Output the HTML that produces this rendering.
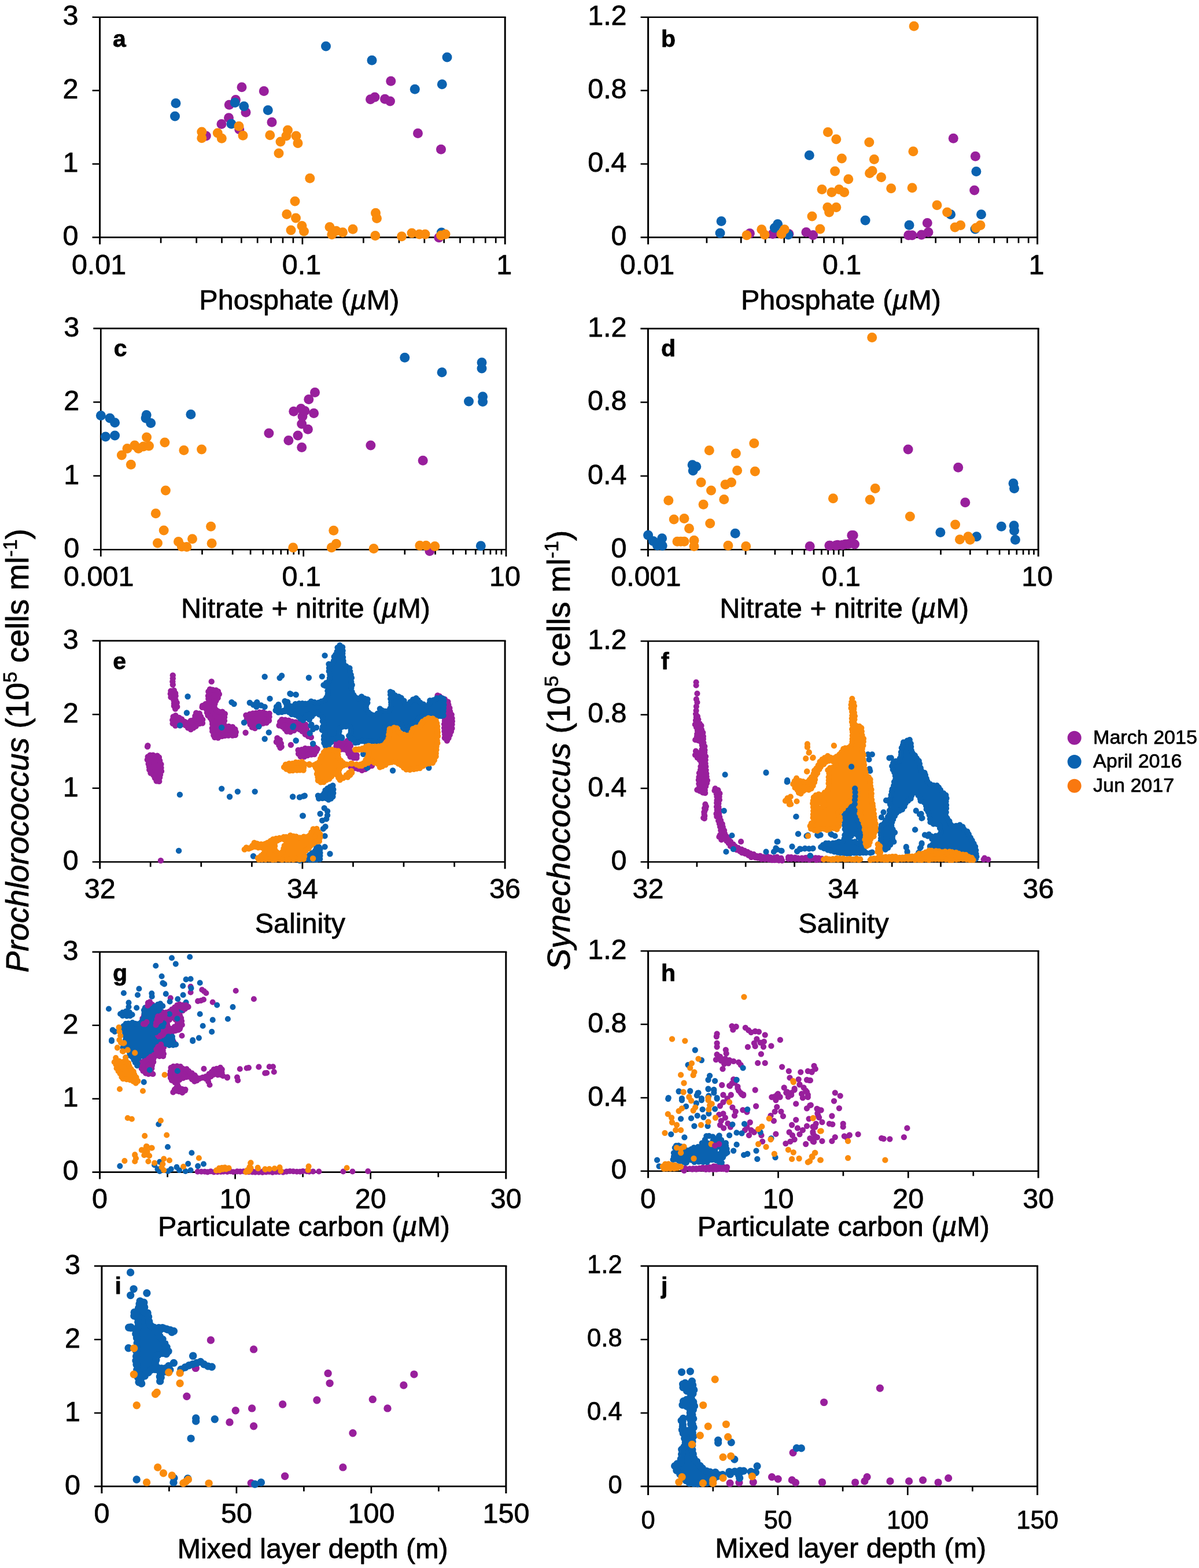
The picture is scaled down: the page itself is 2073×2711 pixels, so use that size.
<!DOCTYPE html>
<html lang="en"><head><meta charset="utf-8"><title>Prochlorococcus and Synechococcus abundance vs environmental variables</title>
<style>html,body{margin:0;padding:0;background:#fff}svg{display:block}</style></head>
<body>
<svg width="2073" height="2711" viewBox="0 0 2073 2711" role="img" aria-label="Ten scatter plots of Prochlorococcus and Synechococcus abundance against phosphate, nitrate + nitrite, salinity, particulate carbon and mixed layer depth" font-family='"Liberation Sans", sans-serif'>
<style>text{stroke:#000;stroke-width:.75px;stroke-linejoin:round}</style>
<rect width="2073" height="2711" fill="#fff"/>
<g id="panel-a">
<path d="M159.6 29.7H874.7M159.6 410.4H873.2" fill="none" stroke="#000" stroke-width="2.6"/>
<path d="M172.6 29.7V422.4M873.2 29.7V422.4" fill="none" stroke="#000" stroke-width="3.0"/>
<path d="M159.6 156.6H172.6M159.6 283.5H172.6" fill="none" stroke="#000" stroke-width="2.5"/>
<path d="M522.9 410.4V422.4M278.1 410.4V420.2M339.7 410.4V420.2M383.5 410.4V420.2M417.4 410.4V420.2M445.2 410.4V420.2M468.6 410.4V420.2M489 410.4V420.2M506.9 410.4V420.2M628.4 410.4V420.2M690 410.4V420.2M733.8 410.4V420.2M767.7 410.4V420.2M795.5 410.4V420.2M818.9 410.4V420.2M839.3 410.4V420.2M857.2 410.4V420.2" fill="none" stroke="#000" stroke-width="2.7"/>
<text x="135.6" y="43.4" font-size="48.5" text-anchor="end">3</text>
<text x="135.6" y="170.3" font-size="48.5" text-anchor="end">2</text>
<text x="135.6" y="297.2" font-size="48.5" text-anchor="end">1</text>
<text x="135.6" y="424.1" font-size="48.5" text-anchor="end">0</text>
<text x="171.1" y="473.8" font-size="48.5" text-anchor="middle">0.01</text>
<text x="521.4" y="473.8" font-size="48.5" text-anchor="middle">0.1</text>
<text x="871.7" y="473.8" font-size="48.5" text-anchor="middle">1</text>
<text x="517.4" y="534.5" font-size="48.5" text-anchor="middle">Phosphate (<tspan font-style="italic">µ</tspan>M)</text>
<text x="195.1" y="81.3" font-size="41" font-weight="bold">a</text>
<g fill="#981f9c"><circle cx="418" cy="150.8" r="8.5"/><circle cx="456.3" cy="157.5" r="8.5"/><circle cx="396.3" cy="181.3" r="8.5"/><circle cx="407.5" cy="172.5" r="8.5"/><circle cx="425" cy="194.3" r="8.5"/><circle cx="395.5" cy="203.8" r="8.5"/><circle cx="383" cy="214.5" r="8.5"/><circle cx="470" cy="211.3" r="8.5"/><circle cx="413.8" cy="223.8" r="8.5"/><circle cx="356.3" cy="235" r="8.5"/><circle cx="675.8" cy="140.3" r="8.5"/><circle cx="640.5" cy="171.8" r="8.5"/><circle cx="648" cy="168" r="8.5"/><circle cx="665.5" cy="171.3" r="8.5"/><circle cx="674.5" cy="175" r="8.5"/><circle cx="722.5" cy="230.5" r="8.5"/><circle cx="762.5" cy="258.3" r="8.5"/><circle cx="758.8" cy="410.8" r="8.5"/></g>
<g fill="#0a62b0"><circle cx="563.5" cy="80" r="8.5"/><circle cx="304" cy="178.5" r="8.5"/><circle cx="302.5" cy="201" r="8.5"/><circle cx="406.3" cy="177.5" r="8.5"/><circle cx="421.8" cy="183.8" r="8.5"/><circle cx="463.3" cy="190.5" r="8.5"/><circle cx="400" cy="214.3" r="8.5"/><circle cx="643" cy="104.3" r="8.5"/><circle cx="773" cy="99" r="8.5"/><circle cx="717.3" cy="154.3" r="8.5"/><circle cx="764.3" cy="145.8" r="8.5"/><circle cx="763.3" cy="402" r="8.5"/></g>
<g fill="#fa8b0c"><circle cx="348.8" cy="228" r="8.5"/><circle cx="348.8" cy="238.8" r="8.5"/><circle cx="376.3" cy="230" r="8.5"/><circle cx="383.3" cy="239.3" r="8.5"/><circle cx="413" cy="218.3" r="8.5"/><circle cx="420" cy="234.3" r="8.5"/><circle cx="466.8" cy="233.8" r="8.5"/><circle cx="497.5" cy="225" r="8.5"/><circle cx="495" cy="235" r="8.5"/><circle cx="485" cy="245" r="8.5"/><circle cx="512" cy="235" r="8.5"/><circle cx="515" cy="247.5" r="8.5"/><circle cx="482" cy="265" r="8.5"/><circle cx="535.8" cy="308.3" r="8.5"/><circle cx="510" cy="348" r="8.5"/><circle cx="495.8" cy="370.5" r="8.5"/><circle cx="511.5" cy="377" r="8.5"/><circle cx="522" cy="390.5" r="8.5"/><circle cx="525.5" cy="400" r="8.5"/><circle cx="503" cy="398" r="8.5"/><circle cx="570" cy="392.5" r="8.5"/><circle cx="573.8" cy="405.5" r="8.5"/><circle cx="581.3" cy="399.3" r="8.5"/><circle cx="592.5" cy="401.8" r="8.5"/><circle cx="610" cy="396.3" r="8.5"/><circle cx="649.5" cy="368.3" r="8.5"/><circle cx="651.5" cy="377.5" r="8.5"/><circle cx="648.8" cy="407.5" r="8.5"/><circle cx="694.5" cy="408.8" r="8.5"/><circle cx="712" cy="403" r="8.5"/><circle cx="725" cy="405" r="8.5"/><circle cx="735" cy="405" r="8.5"/><circle cx="762.5" cy="407" r="8.5"/><circle cx="770" cy="405" r="8.5"/></g>
</g>
<g id="panel-b">
<path d="M1107.6 29.7H1795.1M1107.6 410.4H1793.6" fill="none" stroke="#000" stroke-width="2.6"/>
<path d="M1120.6 29.7V422.4M1793.6 29.7V422.4" fill="none" stroke="#000" stroke-width="3.0"/>
<path d="M1107.6 156.6H1120.6M1107.6 283.5H1120.6" fill="none" stroke="#000" stroke-width="2.5"/>
<path d="M1457.1 410.4V422.4M1221.9 410.4V420.2M1281.2 410.4V420.2M1323.2 410.4V420.2M1355.8 410.4V420.2M1382.4 410.4V420.2M1405 410.4V420.2M1424.5 410.4V420.2M1441.7 410.4V420.2M1558.4 410.4V420.2M1617.7 410.4V420.2M1659.7 410.4V420.2M1692.3 410.4V420.2M1718.9 410.4V420.2M1741.5 410.4V420.2M1761 410.4V420.2M1778.2 410.4V420.2" fill="none" stroke="#000" stroke-width="2.7"/>
<text x="1083.6" y="43.4" font-size="48.5" text-anchor="end">1.2</text>
<text x="1083.6" y="170.3" font-size="48.5" text-anchor="end">0.8</text>
<text x="1083.6" y="297.2" font-size="48.5" text-anchor="end">0.4</text>
<text x="1083.6" y="424.1" font-size="48.5" text-anchor="end">0</text>
<text x="1119.1" y="474.2" font-size="48.5" text-anchor="middle">0.01</text>
<text x="1455.6" y="474.2" font-size="48.5" text-anchor="middle">0.1</text>
<text x="1792.1" y="474.2" font-size="48.5" text-anchor="middle">1</text>
<text x="1454" y="534.5" font-size="48.5" text-anchor="middle">Phosphate (<tspan font-style="italic">µ</tspan>M)</text>
<text x="1143.1" y="81.3" font-size="41" font-weight="bold">b</text>
<g fill="#981f9c"><circle cx="1296.4" cy="403.6" r="8.5"/><circle cx="1336" cy="404.6" r="8.5"/><circle cx="1363.9" cy="404.6" r="8.5"/><circle cx="1393.9" cy="401.4" r="8.5"/><circle cx="1405.7" cy="406.4" r="8.5"/><circle cx="1648.3" cy="239.2" r="8.5"/><circle cx="1686.4" cy="270.3" r="8.5"/><circle cx="1684.7" cy="329" r="8.5"/><circle cx="1603.3" cy="385.4" r="8.5"/><circle cx="1605" cy="401.4" r="8.5"/><circle cx="1570.7" cy="406.8" r="8.5"/><circle cx="1577" cy="406.8" r="8.5"/><circle cx="1593.2" cy="406.1" r="8.5"/></g>
<g fill="#0a62b0"><circle cx="1247.1" cy="382.6" r="8.5"/><circle cx="1245" cy="402.9" r="8.5"/><circle cx="1399.3" cy="268.6" r="8.5"/><circle cx="1339.3" cy="393.9" r="8.5"/><circle cx="1344.6" cy="387.5" r="8.5"/><circle cx="1362.9" cy="405.7" r="8.5"/><circle cx="1496.1" cy="381.1" r="8.5"/><circle cx="1572" cy="389.2" r="8.5"/><circle cx="1643.6" cy="370.8" r="8.5"/><circle cx="1687.9" cy="296.4" r="8.5"/><circle cx="1696.5" cy="370.8" r="8.5"/><circle cx="1686" cy="396" r="8.5"/></g>
<g fill="#fa8b0c"><circle cx="1291" cy="406.8" r="8.5"/><circle cx="1316.8" cy="396.7" r="8.5"/><circle cx="1322.1" cy="405.7" r="8.5"/><circle cx="1356.4" cy="396.7" r="8.5"/><circle cx="1351" cy="404.6" r="8.5"/><circle cx="1404" cy="374" r="8.5"/><circle cx="1417.9" cy="396" r="8.5"/><circle cx="1431.4" cy="228.5" r="8.5"/><circle cx="1445.8" cy="240.7" r="8.5"/><circle cx="1455.4" cy="273.9" r="8.5"/><circle cx="1443.6" cy="296" r="8.5"/><circle cx="1466.8" cy="309.7" r="8.5"/><circle cx="1421.1" cy="327.5" r="8.5"/><circle cx="1437.9" cy="332.4" r="8.5"/><circle cx="1450.7" cy="327.5" r="8.5"/><circle cx="1459.7" cy="332.4" r="8.5"/><circle cx="1430.8" cy="358.6" r="8.5"/><circle cx="1433.6" cy="367.1" r="8.5"/><circle cx="1445.8" cy="358.6" r="8.5"/><circle cx="1502.8" cy="246.1" r="8.5"/><circle cx="1511.4" cy="275.4" r="8.5"/><circle cx="1508.1" cy="295.4" r="8.5"/><circle cx="1503.6" cy="299.6" r="8.5"/><circle cx="1523.6" cy="306.5" r="8.5"/><circle cx="1540.7" cy="325.8" r="8.5"/><circle cx="1578.9" cy="261.7" r="8.5"/><circle cx="1577.1" cy="324.7" r="8.5"/><circle cx="1620" cy="354.7" r="8.5"/><circle cx="1637.6" cy="367.1" r="8.5"/><circle cx="1651.1" cy="392.9" r="8.5"/><circle cx="1660.7" cy="389.6" r="8.5"/><circle cx="1687.5" cy="393.9" r="8.5"/><circle cx="1695" cy="389.6" r="8.5"/><circle cx="1580.2" cy="45.2" r="8.5"/></g>
</g>
<g id="panel-c">
<path d="M161.3 567.9H876.4M161.3 950.2H875" fill="none" stroke="#000" stroke-width="2.6"/>
<path d="M174.3 567.9V962.2M875 567.9V962.2" fill="none" stroke="#000" stroke-width="2.7"/>
<path d="M161.3 695.3H174.3M161.3 822.8H174.3" fill="none" stroke="#000" stroke-width="2.5"/>
<path d="M524.7 950.2V962.2M349.5 950.2V958.8M402.2 950.2V958.8M433.1 950.2V958.8M454.9 950.2V958.8M471.9 950.2V958.8M485.8 950.2V958.8M497.5 950.2V958.8M507.7 950.2V958.8M516.6 950.2V958.8M699.8 950.2V958.8M752.6 950.2V958.8M783.4 950.2V958.8M805.3 950.2V958.8M822.3 950.2V958.8M836.1 950.2V958.8M847.9 950.2V958.8M858 950.2V958.8M867 950.2V958.8" fill="none" stroke="#000" stroke-width="2.7"/>
<text x="137.3" y="581.6" font-size="48.5" text-anchor="end">3</text>
<text x="137.3" y="709" font-size="48.5" text-anchor="end">2</text>
<text x="137.3" y="836.5" font-size="48.5" text-anchor="end">1</text>
<text x="137.3" y="963.9" font-size="48.5" text-anchor="end">0</text>
<text x="170.8" y="1012.7" font-size="48.5" text-anchor="middle">0.001</text>
<text x="521.2" y="1012.7" font-size="48.5" text-anchor="middle">0.1</text>
<text x="873" y="1012.7" font-size="48.5" text-anchor="middle">10</text>
<text x="528.5" y="1067.6" font-size="48.5" text-anchor="middle">Nitrate + nitrite (<tspan font-style="italic">µ</tspan>M)</text>
<text x="196.8" y="616" font-size="41" font-weight="bold">c</text>
<g fill="#981f9c"><circle cx="464.9" cy="748.9" r="8.5"/><circle cx="498.9" cy="761.5" r="8.5"/><circle cx="515" cy="753" r="8.5"/><circle cx="521.7" cy="773.6" r="8.5"/><circle cx="532.4" cy="742.2" r="8.5"/><circle cx="521.7" cy="732.9" r="8.5"/><circle cx="523" cy="720" r="8.5"/><circle cx="507.8" cy="711.2" r="8.5"/><circle cx="520.4" cy="706.6" r="8.5"/><circle cx="527" cy="710.6" r="8.5"/><circle cx="542.6" cy="714.6" r="8.5"/><circle cx="533.8" cy="690.5" r="8.5"/><circle cx="544.5" cy="678.5" r="8.5"/><circle cx="640.9" cy="770.1" r="8.5"/><circle cx="731.2" cy="796.3" r="8.5"/><circle cx="742.9" cy="952.7" r="8.5"/></g>
<g fill="#0a62b0"><circle cx="174.4" cy="718.6" r="8.5"/><circle cx="190" cy="722.9" r="8.5"/><circle cx="198.6" cy="730.8" r="8.5"/><circle cx="253.2" cy="717.5" r="8.5"/><circle cx="252.1" cy="722.9" r="8.5"/><circle cx="260.7" cy="731.4" r="8.5"/><circle cx="329.9" cy="716.4" r="8.5"/><circle cx="182.5" cy="755" r="8.5"/><circle cx="198.6" cy="752.9" r="8.5"/><circle cx="699.8" cy="618.2" r="8.5"/><circle cx="764.1" cy="643.7" r="8.5"/><circle cx="833" cy="626.8" r="8.5"/><circle cx="833" cy="637" r="8.5"/><circle cx="810.5" cy="694" r="8.5"/><circle cx="834.6" cy="685.7" r="8.5"/><circle cx="834.6" cy="694.6" r="8.5"/><circle cx="831.3" cy="943.8" r="8.5"/></g>
<g fill="#fa8b0c"><circle cx="210.4" cy="787.1" r="8.5"/><circle cx="220" cy="775.4" r="8.5"/><circle cx="232.9" cy="770" r="8.5"/><circle cx="239.3" cy="775.4" r="8.5"/><circle cx="247.9" cy="772.1" r="8.5"/><circle cx="253.6" cy="756.1" r="8.5"/><circle cx="257.5" cy="771.1" r="8.5"/><circle cx="284.9" cy="765.1" r="8.5"/><circle cx="317.9" cy="778.6" r="8.5"/><circle cx="348.6" cy="777.1" r="8.5"/><circle cx="226.4" cy="803.2" r="8.5"/><circle cx="286.4" cy="848.1" r="8.5"/><circle cx="269.3" cy="887.8" r="8.5"/><circle cx="283.2" cy="917.1" r="8.5"/><circle cx="364.6" cy="910.3" r="8.5"/><circle cx="272.5" cy="939" r="8.5"/><circle cx="308.5" cy="936.4" r="8.5"/><circle cx="332.5" cy="931.7" r="8.5"/><circle cx="314.3" cy="945" r="8.5"/><circle cx="322.9" cy="945.4" r="8.5"/><circle cx="366.1" cy="939.6" r="8.5"/><circle cx="506.7" cy="946.7" r="8.5"/><circle cx="576.8" cy="917.3" r="8.5"/><circle cx="581.3" cy="940.2" r="8.5"/><circle cx="573.2" cy="946.8" r="8.5"/><circle cx="646.1" cy="948.6" r="8.5"/><circle cx="725.9" cy="943.2" r="8.5"/><circle cx="736.6" cy="943.2" r="8.5"/><circle cx="751.8" cy="944.6" r="8.5"/></g>
</g>
<g id="panel-d">
<path d="M1107.4 568.1H1796.7M1107.4 950.3H1795.2" fill="none" stroke="#000" stroke-width="2.6"/>
<path d="M1120.4 568.1V962.3M1795.2 568.1V962.3" fill="none" stroke="#000" stroke-width="3.0"/>
<path d="M1107.4 695.5H1120.4M1107.4 822.9H1120.4" fill="none" stroke="#000" stroke-width="2.5"/>
<path d="M1457.8 950.3V962.3M1289.1 950.3V958.9M1339.9 950.3V958.9M1369.6 950.3V958.9M1390.7 950.3V958.9M1407 950.3V958.9M1420.4 950.3V958.9M1431.7 950.3V958.9M1441.5 950.3V958.9M1450.1 950.3V958.9M1626.5 950.3V958.9M1677.3 950.3V958.9M1707 950.3V958.9M1728.1 950.3V958.9M1744.4 950.3V958.9M1757.8 950.3V958.9M1769.1 950.3V958.9M1778.9 950.3V958.9M1787.5 950.3V958.9" fill="none" stroke="#000" stroke-width="2.7"/>
<text x="1083.4" y="581.8" font-size="48.5" text-anchor="end">1.2</text>
<text x="1083.4" y="709.2" font-size="48.5" text-anchor="end">0.8</text>
<text x="1083.4" y="836.6" font-size="48.5" text-anchor="end">0.4</text>
<text x="1083.4" y="964" font-size="48.5" text-anchor="end">0</text>
<text x="1116.9" y="1012.7" font-size="48.5" text-anchor="middle">0.001</text>
<text x="1454.3" y="1012.7" font-size="48.5" text-anchor="middle">0.1</text>
<text x="1793.2" y="1012.7" font-size="48.5" text-anchor="middle">10</text>
<text x="1459.7" y="1067.6" font-size="48.5" text-anchor="middle">Nitrate + nitrite (<tspan font-style="italic">µ</tspan>M)</text>
<text x="1142.9" y="616" font-size="41" font-weight="bold">d</text>
<g fill="#981f9c"><circle cx="1400.2" cy="944.4" r="8.5"/><circle cx="1434.8" cy="943.3" r="8.5"/><circle cx="1448.2" cy="942.2" r="8.5"/><circle cx="1461.6" cy="941.1" r="8.5"/><circle cx="1472.8" cy="925.4" r="8.5"/><circle cx="1570.1" cy="777" r="8.5"/><circle cx="1656.7" cy="808.3" r="8.5"/><circle cx="1668.8" cy="868.8" r="8.5"/><circle cx="1475.2" cy="925.4" r="8.5"/><circle cx="1433.9" cy="943.3" r="8.5"/><circle cx="1445.1" cy="942.9" r="8.5"/><circle cx="1456.3" cy="942.2" r="8.5"/><circle cx="1467.4" cy="940.6" r="8.5"/><circle cx="1477.5" cy="941.1" r="8.5"/></g>
<g fill="#0a62b0"><circle cx="1197.1" cy="803.8" r="8.5"/><circle cx="1203.8" cy="806.7" r="8.5"/><circle cx="1198.2" cy="813.8" r="8.5"/><circle cx="1271.2" cy="922.3" r="8.5"/><circle cx="1120.6" cy="925.3" r="8.5"/><circle cx="1129.3" cy="935.5" r="8.5"/><circle cx="1144.6" cy="930.7" r="8.5"/><circle cx="1136.3" cy="943" r="8.5"/><circle cx="1145.2" cy="943.6" r="8.5"/><circle cx="1625.9" cy="920.5" r="8.5"/><circle cx="1688.4" cy="927.7" r="8.5"/><circle cx="1731.3" cy="910.3" r="8.5"/><circle cx="1752" cy="835.7" r="8.5"/><circle cx="1753.6" cy="844.6" r="8.5"/><circle cx="1753.1" cy="908.7" r="8.5"/><circle cx="1753.6" cy="917.6" r="8.5"/><circle cx="1755.4" cy="933.3" r="8.5"/></g>
<g fill="#fa8b0c"><circle cx="1303.8" cy="766.5" r="8.5"/><circle cx="1226.3" cy="778.8" r="8.5"/><circle cx="1272.3" cy="783.9" r="8.5"/><circle cx="1274.6" cy="813.4" r="8.5"/><circle cx="1305.4" cy="815" r="8.5"/><circle cx="1212.1" cy="833.9" r="8.5"/><circle cx="1264.5" cy="833.9" r="8.5"/><circle cx="1254" cy="837.7" r="8.5"/><circle cx="1229.5" cy="848" r="8.5"/><circle cx="1251.8" cy="863.6" r="8.5"/><circle cx="1155.8" cy="865.2" r="8.5"/><circle cx="1216.1" cy="872.3" r="8.5"/><circle cx="1440.4" cy="861.8" r="8.5"/><circle cx="1165.2" cy="898" r="8.5"/><circle cx="1183" cy="896.4" r="8.5"/><circle cx="1227.7" cy="904.9" r="8.5"/><circle cx="1191.5" cy="913.8" r="8.5"/><circle cx="1171" cy="936.3" r="8.5"/><circle cx="1177" cy="936.3" r="8.5"/><circle cx="1183" cy="936.3" r="8.5"/><circle cx="1200" cy="934.3" r="8.5"/><circle cx="1200" cy="944.6" r="8.5"/><circle cx="1258.9" cy="943.2" r="8.5"/><circle cx="1289.7" cy="944.4" r="8.5"/><circle cx="1513.2" cy="844.6" r="8.5"/><circle cx="1504.2" cy="864.1" r="8.5"/><circle cx="1573.4" cy="893.1" r="8.5"/><circle cx="1651.6" cy="906.9" r="8.5"/><circle cx="1659.4" cy="932.8" r="8.5"/><circle cx="1673.9" cy="927.7" r="8.5"/><circle cx="1677.2" cy="933.3" r="8.5"/><circle cx="1507.7" cy="583.6" r="8.5"/></g>
</g>
<g id="panel-e">
<path d="M159.7 1107.9H874.6M159.7 1490.2H873.1" fill="none" stroke="#000" stroke-width="2.6"/>
<path d="M172.7 1107.9V1502.2M873.1 1107.9V1502.2" fill="none" stroke="#000" stroke-width="3.0"/>
<path d="M159.7 1235.3H172.7M159.7 1362.8H172.7" fill="none" stroke="#000" stroke-width="2.5"/>
<path d="M522.9 1490.2V1502.2M260.2 1490.2V1498.8M347.8 1490.2V1498.8M435.4 1490.2V1498.8M610.5 1490.2V1498.8M698 1490.2V1498.8M785.6 1490.2V1498.8" fill="none" stroke="#000" stroke-width="2.7"/>
<text x="135.7" y="1121.6" font-size="48.5" text-anchor="end">3</text>
<text x="135.7" y="1249" font-size="48.5" text-anchor="end">2</text>
<text x="135.7" y="1376.5" font-size="48.5" text-anchor="end">1</text>
<text x="135.7" y="1503.9" font-size="48.5" text-anchor="end">0</text>
<text x="172.7" y="1552.5" font-size="48.5" text-anchor="middle">32</text>
<text x="522.9" y="1552.5" font-size="48.5" text-anchor="middle">34</text>
<text x="873.1" y="1552.5" font-size="48.5" text-anchor="middle">36</text>
<text x="518.9" y="1613" font-size="48.5" text-anchor="middle">Salinity</text>
<text x="195.2" y="1157.1" font-size="41" font-weight="bold">e</text>
<clipPath id="clip-e"><rect x="152.7" y="1087.9" width="740.4" height="422.3"/></clipPath>
<g clip-path="url(#clip-e)">
<path d="M757.5,1202.6 758.5,1208.6 768.4,1221.9 769.4,1224 769.5,1260.5 771,1278.8 771.8,1279.2 775.7,1274.3 780.5,1259.9 780.5,1239.9 774,1213.8ZM604.4,1284.1 600.2,1282.5 594.7,1285.2 592.1,1285.5 584.3,1281.3 582,1283 582,1294.8 598.1,1295.2 600.7,1297.4 604.1,1305.9 611.6,1309.6 617.2,1308.8 616.7,1306 608,1301.6 606.1,1299.5 602.9,1292.3 603.3,1289.9 605.1,1287.6ZM516.4,1298.6 519.1,1306.6 523.5,1307.7 526.4,1307.5 528.1,1306.4 534.3,1304.6 543,1303.2 546,1297 548.4,1295.2 548.4,1293.2 537,1294.4 534.4,1295.2 524.3,1295.2ZM498.2,1264.5 504.3,1263.2 511.8,1260.7 514.5,1258.6 517.6,1258.4 521.4,1260.5 526.8,1267.6 536.2,1273.7 529.3,1263.1 526.2,1252.4 516.9,1249.8 506.1,1248.6 496.9,1245.2 487.8,1245.2 482.6,1251.4 483.9,1254 493.9,1259.1ZM483.9,1290.2 486.8,1292.6 484.1,1281.4 481.4,1277.3 479.5,1277.9 479.1,1281.5 483.3,1287.5ZM438,1258 440.7,1258 449.6,1251.2 459.6,1249.4 464.4,1244.6 465.7,1237.2 464.1,1234.1 453.1,1232.7 436.3,1234.4 427.2,1237 426.6,1239.4 429.2,1244.6 434.3,1253.2ZM349.5,1222.2 355.6,1224.7 357.1,1225.9 358.1,1227.6 359.8,1234.3 367.8,1245.1 368.2,1247.1 368.2,1260.9 370.5,1272.8 373.9,1275.3 389.7,1270.6 405.6,1270.5 407.9,1269.4 405.8,1261.2 400,1257.7 389.2,1257.5 387.3,1256.5 386.1,1254.8 385.5,1252.3 387.3,1239.6 387.3,1232.7 381.6,1232.3 372.2,1228.5 369.8,1225.9 369.5,1223.4 371.4,1213.5 377,1205.6 378.1,1201.1 375,1193.5 373.1,1194.8 370.6,1195.2 368.6,1194.6 364.7,1192 362.7,1192.5 360.3,1201 362,1211.1 361.6,1213.5 359.7,1215.8ZM302.2,1253.8 316.5,1250.9 318.4,1251.6 330,1260.3 342,1251.4 349,1249.8 349.6,1247.4 346.7,1238.6 343.5,1233.3 340.8,1233.8 336.6,1243.8 335,1245.8 323.8,1250.5 320.2,1249.8 304.2,1238.6 299.5,1240.2 299.5,1249.3ZM296.6,1195.2 295.4,1202.7 300.8,1209.4 302.6,1224.1 304.6,1224.1 303.4,1211.9 303.4,1199.9 301.5,1195.2ZM256.1,1307.6 255.8,1311.1 261,1335 263.4,1336.4 268,1342.1 272.7,1351.2 274.3,1348.7 277.4,1335.9 277.5,1324.3 275.1,1311.8 272,1307.7 259.1,1306.9Z" fill="#981f9c" fill-rule="evenodd" stroke="#981f9c" stroke-width="1.5" stroke-linejoin="round"/>
<path d="M298.8 1167.7h0M298.8 1173h0M298.4 1178.4h0M298.8 1183.8h0M365.7 1178.4h0M424.6 1266.8h0M502.9 1287.9h0M255.5 1289.1h0M606.6 1325.9h0M613 1328.1h0M619.2 1329.4h0M625.8 1331.9h0M631.6 1329.7h0M636.5 1326.5h0M643 1323.7h0M255 1290.9h0M277.9 1487.9h0M772.9 1280.5h0M775.5 1276h0M777.7 1270.6h0M779.9 1264.8h0M781.4 1259.2h0M781.5 1252.4h0M781.8 1247.1h0M781.5 1242h0M780.7 1235.6h0M778.1 1230.1h0M777.3 1224.3h0M775.3 1218.4h0M774.4 1213.4h0M768.9 1208.9h0M764.1 1207h0M759.8 1203.8h0M756.6 1202.5h0M758.3 1209h0M760.9 1214.2h0M763.8 1219.1h0M768.5 1222.2h0M769.1 1229.2h0M769.3 1234.9h0M768.8 1241.4h0M768.9 1246.8h0M768.1 1252.1h0M768.2 1258.6h0M768.5 1264.5h0M769.2 1269.7h0M768.9 1275.8h0M732.7 1224.7h0M729.3 1224.1h0M604.3 1282.5h0M600.4 1280.9h0M593.5 1284.1h0M588.9 1283.6h0M584.2 1280.1h0M581.2 1284.5h0M581.4 1290.4h0M582 1295.3h0M589.2 1295.5h0M594.3 1295.4h0M599.7 1297.4h0M602.5 1302.8h0M605.6 1308.2h0M611.5 1310.2h0M616.6 1310.4h0M616.8 1305.8h0M611.7 1302.3h0M606.4 1299.9h0M603.7 1293.8h0M606 1289.5h0M516.1 1303.2h0M519.6 1307.7h0M526 1308.4h0M531.7 1306h0M538.2 1304.5h0M543.6 1304h0M546.6 1299.1h0M548.6 1295h0M544.5 1292.2h0M538.5 1294h0M532.8 1294.7h0M527.6 1294h0M521.5 1296.2h0M515.6 1297h0M502.1 1265.4h0M508.4 1262.7h0M512.6 1259.6h0M518 1261h0M522.4 1264.2h0M527.7 1269.6h0M532.7 1272.8h0M537.9 1274.8h0M534.7 1269.2h0M531.5 1264.9h0M530 1259.8h0M528.1 1252.7h0M522.9 1250.4h0M517.5 1248.8h0M511.4 1248.8h0M505 1247.7h0M499.2 1245.6h0M493.1 1244.6h0M487.3 1244.3h0M484.2 1247.9h0M482.6 1254.3h0M488.3 1256.4h0M492.6 1260.2h0M496 1264.6h0M484.6 1292.9h0M486.7 1291.1h0M485.8 1285.4h0M483.9 1279.2h0M479.4 1276.3h0M477.9 1282.8h0M482.4 1288.5h0M440.8 1259.1h0M445.8 1255.5h0M450.3 1251.9h0M455 1250.6h0M460.8 1249.6h0M465 1245.7h0M465.6 1239.2h0M465.6 1233.6h0M459.1 1233.5h0M455.1 1231.5h0M448.6 1231.8h0M442.5 1233h0M437.1 1233.4h0M431.9 1234.7h0M425.4 1236.8h0M426.9 1242.6h0M429.1 1246.9h0M432.7 1252.5h0M435.9 1257.4h0M349.6 1222.7h0M356.3 1225.5h0M358 1232.1h0M359.5 1236.9h0M363.6 1241.2h0M366.5 1246.2h0M367.2 1251.8h0M366.9 1259h0M367.3 1264.4h0M369.4 1271.3h0M371.2 1274.8h0M377.1 1275.5h0M383.9 1272.8h0M389 1271.7h0M394.9 1271.6h0M402 1271.5h0M406.9 1270.7h0M407.8 1265.8h0M406.4 1260.9h0M402.1 1256.9h0M395.5 1256h0M390.2 1256.2h0M387.2 1252.6h0M388 1246.1h0M388.1 1240.1h0M388.8 1234.3h0M384.4 1230.8h0M378.5 1230.4h0M374.1 1227.9h0M370.7 1223h0M371.4 1217.1h0M373.5 1211.5h0M376.7 1206.5h0M378.9 1200.3h0M377 1195.4h0M373.5 1193.5h0M367.7 1192.6h0M363 1191.6h0M360.4 1195.7h0M360 1203.1h0M360.4 1208.2h0M360.6 1214.8h0M355.4 1217.3h0M350.1 1220.2h0M320.5 1253.7h0M325 1258.3h0M329.9 1261h0M334.5 1258.2h0M338.7 1255.5h0M344.9 1251.1h0M350 1250.3h0M350.2 1244.2h0M347.2 1239.2h0M344.8 1233.8h0M339.2 1232.8h0M337.4 1238h0M335 1244.6h0M329.8 1246.3h0M325.5 1249.6h0M319.6 1248h0M314.2 1243.5h0M309.7 1240.9h0M303.6 1237.3h0M299.6 1239.3h0M298.3 1244.9h0M298.7 1250.9h0M303.2 1254.6h0M308.1 1253.1h0M314.5 1252.3h0M303.1 1225.6h0M306.2 1221.9h0M305.7 1214.9h0M303.6 1210.5h0M303.6 1203.3h0M303.2 1198.8h0M300.8 1193.6h0M295.4 1194.6h0M294.8 1199.6h0M295.5 1205.4h0M300.5 1210.8h0M301 1216.3h0M300.9 1220.5h0M260.5 1336.5h0M265.5 1340.4h0M267.8 1345h0M270.6 1350.2h0M275.2 1350.9h0M276.1 1344.2h0M277.1 1339.3h0M279 1333.4h0M278.5 1327.6h0M278.4 1321.4h0M276.2 1315.2h0M274.9 1309.4h0M271.9 1306.8h0M264.6 1305.7h0M259.5 1305.8h0M255.7 1308.5h0M254.8 1313.6h0M256.7 1320.7h0M257.9 1325.7h0M258.3 1330.9h0" fill="none" stroke="#981f9c" stroke-width="10.4" stroke-linecap="round"/>
<path d="M480.2,1219.4 477.2,1226.3 481.9,1231 495.6,1229.6 510.9,1235.4 524.8,1244.6 524.9,1240.9 525.7,1239 531.5,1234.7 533.5,1234.1 535.5,1234.3 538.3,1236.5 544.4,1230.9 547.4,1230.6 549.7,1231.7 557.6,1239.6 558.7,1241.8 560.5,1252.2 556.9,1260.3 561.2,1264.6 562.2,1266.8 560.7,1284.7 562.1,1287.7 568.2,1287.7 572.4,1279.4 573.8,1277.9 586.6,1273.4 585,1270.1 586,1259.7 587.4,1257 590.1,1255.6 600,1253.7 602,1254.1 603.8,1255.3 608.2,1263.7 608.8,1266.2 607.9,1269 603.8,1273.2 610.3,1278 615.7,1283.3 624.8,1280.5 632.1,1282.1 639.5,1280.5 651.6,1282.2 657.6,1281 662.8,1273.1 664.5,1260.1 665.4,1257.7 667,1256.3 676.7,1250.5 689.3,1250.2 691.3,1250.6 693.3,1252.1 699.5,1261.3 704.4,1262.1 710.7,1251.6 712.8,1250.4 719.4,1249 723,1241.1 733.9,1234.4 747.1,1232.3 763.3,1237.7 766.2,1237.7 766.2,1209.3 763,1206 743.6,1213 742,1218.7 740.6,1220.2 738.8,1221.1 735.3,1220.8 725.5,1214.9 720,1207.8 713.9,1211.3 706.5,1218.6 703.2,1219.5 701.3,1218.9 699.4,1217.3 697.3,1210.5 690.4,1206.3 679.3,1200.8 676.6,1197.5 676.6,1225 676.2,1227 675.1,1228.7 671.9,1230.2 663.3,1230.1 661,1229 657.8,1225.9 656.6,1232.2 654.3,1234.9 643.4,1237.3 639.9,1236.4 631.7,1226.5 630.6,1224.1 631,1221 635.5,1213.5 634.8,1210.7 625,1205.8 619.2,1208.6 615.7,1208.3 613.7,1206.7 607.8,1198.6 607.3,1196.6 606.4,1168.6 602.7,1155.3 594.4,1150.7 592.4,1148 591.3,1120.4 586.8,1116.9 585.1,1117.7 583.3,1128.9 578.4,1134.3 578.4,1143.4 577.8,1145.3 575.6,1147.5 569.7,1149.9 571.1,1176.1 569.4,1179 561.3,1184.1 565,1184.7 567.3,1187.3 567.7,1189.3 567.6,1200.9 560.6,1212.8 558.2,1214 548.2,1215.9 539.7,1212.9 531.1,1217.5 529.1,1217.6 526.9,1216.6 516.8,1216.6 503.3,1222 501.2,1221.6 499.5,1220.5 494.1,1212.6 495.9,1216.1 496.8,1223.8 496.3,1226.2 495.1,1227.8 493.4,1228.8 486.6,1230 483.6,1229.3 481.8,1227.5ZM564.6,1365.3 558.7,1376.1 556.9,1377.1 550.4,1377.7 551.8,1379.1 561.9,1377.8 569.6,1382.2 573.7,1379.7 575.1,1368.6 573.7,1358.9 573.3,1358.6 571,1362ZM528.3,1484.8 551.9,1484.8 551.9,1464.8 548.2,1464.8 544.9,1472.1Z" fill="#0a62b0" fill-rule="evenodd" stroke="#0a62b0" stroke-width="1.5" stroke-linejoin="round"/>
<path d="M324.6 1204.3h0M322.9 1232.5h0M311.2 1254.3h0M383.2 1257.9h0M400.5 1214.1h0M404.6 1217.1h0M457.7 1170h0M483.6 1172.1h0M487.1 1168.2h0M466.6 1207.9h0M501.4 1199.3h0M511.8 1201.1h0M431.8 1215h0M438 1218.6h0M444.3 1214.1h0M443.4 1222.1h0M451.4 1219.5h0M457.7 1222.1h0M422 1249.3h0M447.5 1256.1h0M464.8 1266.4h0M457.7 1277.5h0M511.8 1280.5h0M506.4 1257h0M561.6 1133.4h0M533.9 1171.8h0M556.8 1169.6h0M511.6 1200.9h0M502.7 1200h0M511.6 1280.4h0M541.1 1285.7h0M507.1 1255.4h0M541.1 1260.7h0M535.7 1267.9h0M634.8 1327.5h0M679.1 1332.3h0M741.4 1327.5h0M735.7 1291.4h0M506.2 1377.5h0M517.9 1378.4h0M526.8 1375.7h0M523.2 1410.5h0M560.7 1397.1h0M566.1 1402.5h0M553.6 1407h0M566.1 1409.6h0M564.3 1415.9h0M557.1 1418.6h0M562.5 1429.3h0M558.9 1432.9h0M561.6 1445.4h0M561.6 1464.1h0M570.5 1476.2h0M310.9 1373.9h0M383.2 1363.6h0M410.9 1368.6h0M397.1 1377.5h0M440.7 1368.6h0M506.1 1377.5h0M518.4 1378.4h0M524.6 1376.6h0M523.8 1410.5h0M309.1 1470.9h0M438 1480.2h0M481.4 1218.1h0M478.1 1222h0M476.7 1228.3h0M481.4 1231.5h0M487.2 1231h0M492.5 1229.8h0M499.5 1231.3h0M504.2 1234.7h0M510.1 1235.8h0M515.6 1238.5h0M519.4 1242.2h0M524.1 1245h0M526.4 1242.1h0M529.3 1236.7h0M534 1235.7h0M539.3 1238.4h0M543.2 1234h0M549 1231.1h0M551.9 1235.4h0M557.5 1240.2h0M557.8 1246.9h0M559.9 1251.4h0M558 1256.6h0M556.9 1262h0M561.6 1267.2h0M560.1 1272.7h0M560 1278.4h0M560.4 1284.6h0M562.7 1289.2h0M568.3 1288.3h0M572.1 1283.4h0M574 1278.4h0M580.3 1277.3h0M585.8 1274.9h0M591.2 1275.7h0M590.9 1274.6h0M586.1 1270.6h0M586.5 1264.6h0M587.2 1259.7h0M591.6 1256.6h0M598 1256h0M604.1 1255.8h0M606.8 1262.5h0M606.6 1266.6h0M603.3 1272.1h0M606.1 1276h0M610.6 1278.8h0M614.3 1284.1h0M619 1283.3h0M625.9 1281h0M632.1 1282.5h0M636.1 1281.3h0M643.4 1281.3h0M648.9 1282.2h0M654.7 1282.7h0M658.7 1280.4h0M663.7 1275.3h0M663.9 1269.8h0M665.7 1263.1h0M665.9 1257.5h0M671.4 1254.1h0M675.9 1250.8h0M682.4 1251.3h0M689.2 1251.5h0M694.2 1253.4h0M696.6 1258.7h0M700.9 1263.1h0M705.8 1262.1h0M709 1255.6h0M711.6 1252.4h0M717.9 1250.9h0M720.7 1246.6h0M724.3 1241.6h0M730.1 1238.2h0M735.3 1234.8h0M740.5 1234.7h0M747.3 1233.1h0M751.9 1235.8h0M757.9 1237.7h0M762.9 1237.9h0M766.6 1237h0M766.5 1229.8h0M766.9 1224.4h0M767.4 1218.4h0M767.3 1211.8h0M766.5 1208.1h0M761.8 1206.1h0M755.1 1207.1h0M749.5 1210.5h0M743.4 1211.1h0M742.4 1216.3h0M737.3 1220.9h0M732.1 1217.8h0M726.4 1214.6h0M722.6 1210.5h0M719.4 1207.1h0M714.1 1209.5h0M709.4 1213.7h0M705.5 1217.7h0M700.8 1217.6h0M698.5 1211.7h0M693.7 1206.7h0M689.3 1204.4h0M683 1202.1h0M678.6 1197.7h0M675 1196.1h0M675.1 1201.1h0M675.4 1208.3h0M676.2 1214.1h0M676.4 1218.6h0M674.7 1224.6h0M672.3 1228.5h0M665.7 1229.7h0M660.1 1227.9h0M656.9 1225.4h0M656.8 1231.5h0M652.7 1233.8h0M645.4 1236.6h0M640.6 1234.7h0M636.9 1231.6h0M633.2 1225.7h0M633 1220.1h0M635.3 1215.1h0M635.5 1209.1h0M630.4 1207.6h0M625.1 1204.5h0M619.9 1207.7h0M614.5 1205.8h0M611.4 1201.7h0M608.6 1196.3h0M607.3 1189.6h0M608.7 1184.2h0M607.2 1178.7h0M607.9 1171.9h0M606.7 1166.6h0M605.2 1160.5h0M604.4 1155.1h0M598.4 1151.9h0M593.9 1147.5h0M593.5 1142.8h0M593 1136.4h0M592.3 1129.9h0M592.6 1125.1h0M592.1 1119h0M587.5 1115.8h0M583.6 1119.6h0M582.6 1126.7h0M580.2 1132h0M577.7 1135.5h0M576.9 1142.7h0M575 1147.1h0M568.5 1148.3h0M569 1155h0M568.8 1160.5h0M570.4 1166.7h0M569.9 1172.4h0M568.9 1177.6h0M564 1180.8h0M559.5 1184.4h0M562.3 1185.6h0M567.3 1189.1h0M566.4 1194.6h0M566.8 1200.5h0M564.5 1206h0M561.7 1209.9h0M555.8 1212.6h0M550.8 1214.6h0M543.7 1214.3h0M538 1212.6h0M534.1 1215.9h0M527.8 1216.6h0M522.7 1216.2h0M517.1 1216.1h0M510.7 1217.3h0M506.1 1221.2h0M500 1220h0M497.2 1213.8h0M492.5 1212.3h0M494.3 1215.4h0M495.8 1221.3h0M494.3 1226.4h0M489.5 1228.9h0M482.6 1228.4h0M482.2 1222h0M537.6 1254.4h0M538.4 1252.8h0M628.5 1303.9h0M628.1 1303.8h0M556.5 1375.8h0M549.9 1375.7h0M551.2 1380.5h0M557.5 1380.1h0M563.8 1380h0M568 1382.6h0M572.3 1380.6h0M575.4 1377.2h0M576.2 1371.2h0M576.3 1364.9h0M575.4 1358.2h0M570.7 1360.5h0M566.3 1363.2h0M562.5 1366.5h0M560.4 1371.7h0M530.1 1485.3h0M535.5 1486.2h0M542.1 1486.2h0M547.7 1485.9h0M553.1 1485.3h0M553.3 1479.4h0M553.4 1474.5h0M553.3 1468.6h0M551.3 1464.4h0M547.3 1465.1h0M545.2 1470.8h0M539.6 1474.9h0M535.6 1478.3h0M531.1 1481.6h0M526.2 1484.4h0M547.1 1257.9h0M534.9 1244.1h0M518.3 1487.9h0" fill="none" stroke="#0a62b0" stroke-width="10.4" stroke-linecap="round"/>
<path d="M525.1,1319.5 519.7,1318.6 513.7,1320.4 510.8,1320.3 503.7,1321.4 493.7,1322 492,1322.9 493.4,1326.6 496.7,1330.4 524.8,1331.1 524.8,1323.4 525.8,1320.8ZM545.1,1322.5 549.6,1331.4 549.8,1346.1 552,1351.5 556.4,1352.4 570.5,1345.3 572.3,1339.1 573.7,1337.6 576.1,1336.6 578.6,1336.9 583.9,1339.8 585.3,1341.8 586.4,1346.4 588.7,1347 591.2,1345.7 585,1339.3 584.2,1337.5 584.2,1335.5 588.8,1324.3 590.7,1322.8 594.7,1321.7 592.8,1320.5 584.7,1312 582.5,1300.9 582.9,1298.1 566.9,1297.2 560.5,1299.9 559.7,1302.2 557.9,1303.9 555,1311.2 552.4,1319.9 549.9,1321.7ZM620.9,1322.4 624.6,1323.7 638.8,1315.7 641.3,1315.2 650.8,1317.6 657.4,1325.4 662.3,1324.4 673.5,1317.2 686.2,1317 688.4,1317.7 696,1323.3 702.2,1329.4 713.6,1329.4 726.2,1326.3 735.9,1319 748.4,1317.3 751.9,1310.2 752,1299.5 752.6,1297.5 753.9,1295.9 755.5,1260.9 754.1,1246.5 748.6,1244.3 738.7,1242.9 731,1248.1 727.8,1256 726.5,1257.6 724.6,1258.6 716.2,1260 711.4,1270.8 709.9,1272.3 708,1273 693.9,1271.2 692,1270.6 690.2,1268.8 685.8,1260.1 679.2,1258.9 674.5,1260.8 672.7,1277 664,1289.7 661.2,1290.9 642.9,1292.7 641,1292.3 636.1,1289.9 628.8,1294.8 634.9,1295 636.7,1295.9 638,1297.5 638.6,1300.4 637.2,1309.2 636.2,1311.1 628.3,1320.8 626,1321.9ZM425.2,1466.9 430.2,1466.9 430.7,1466.6 425.9,1466.6ZM436.6,1463.4 455.5,1463.4 457.9,1464.2 459.6,1466.1 460.2,1468 460,1470 455.8,1478.5 454.3,1480 447.2,1484.8 524.8,1484.8 524.8,1474.7 525.9,1472 535.4,1465 541.5,1455.5 543.3,1454.6 551.5,1453.2 552.8,1450 552.1,1440.5 546.1,1434.5 540.9,1434.5 536.7,1444.3 535.5,1445.8 533.7,1446.7 515.7,1448.8 504.7,1445.4 487.9,1449.1 493,1449.1 495.3,1449.9 497.3,1452.2 497.6,1455.1 496.9,1457 491.8,1463.9 488.1,1474.7 486.8,1476.2 484.5,1477.3 482.5,1477.2 480.3,1476.2 474.8,1469.7 474,1467.9 473.1,1460.3 473.3,1457.8 474.4,1456.2 482.1,1450.2 470,1452 463.3,1458.6 456.2,1461.1 453.7,1461.1 441.3,1458 437.8,1459.8Z" fill="#fa8b0c" fill-rule="evenodd" stroke="#fa8b0c" stroke-width="1.5" stroke-linejoin="round"/>
<path d="M541.1 1484.3h0M522.3 1317.5h0M516.2 1318.4h0M511.5 1318.3h0M505.4 1320.3h0M499.8 1320.1h0M493.9 1322h0M491.1 1326.4h0M495.2 1329.6h0M500.8 1332.2h0M506.3 1332.1h0M513.4 1331.6h0M518.6 1331.2h0M524.6 1331.6h0M525.2 1326.7h0M526.6 1321.1h0M543.4 1322.7h0M546.1 1327.4h0M548.5 1331.2h0M548 1338.1h0M549.6 1343.8h0M549.9 1349.2h0M554.5 1352.3h0M559.6 1352h0M564.3 1348.5h0M569.3 1346.6h0M573 1342.4h0M577.1 1337.3h0M581.8 1339.1h0M585.2 1344.5h0M587.8 1348.2h0M593.5 1345.1h0M588 1342h0M585.9 1337.5h0M586.2 1330.9h0M589.1 1326h0M593.5 1323.2h0M599.3 1321.7h0M593.1 1319h0M589.3 1315.1h0M585.1 1309.9h0M584.3 1304.6h0M584.6 1298.5h0M579.9 1297.9h0M574 1296.2h0M569.2 1296.7h0M562.7 1297.9h0M559.9 1301h0M556.4 1307h0M554.2 1311.6h0M551.8 1317.7h0M547.2 1320.7h0M621.1 1323.8h0M625.4 1323.9h0M631 1321h0M636.4 1318.7h0M642.6 1315.8h0M647.3 1318.6h0M653.6 1320.8h0M656.8 1326.3h0M661 1324.8h0M666.6 1322.3h0M672.8 1318.4h0M677.2 1317.5h0M683.7 1317.4h0M688.8 1320.4h0M693.5 1322.7h0M698 1327.1h0M702.4 1330.3h0M708.7 1330.7h0M715.4 1329.7h0M720.5 1328.9h0M725.9 1328h0M731.3 1324.4h0M736.5 1320.9h0M742.1 1319.9h0M748 1318.7h0M750.8 1314.2h0M753.6 1307.8h0M753.7 1302.5h0M754.4 1296.2h0M754.5 1290.8h0M756.3 1284.7h0M755.7 1280.2h0M756.9 1272.7h0M756.7 1266.5h0M756.2 1261.6h0M756.1 1255.9h0M755.2 1250.4h0M753.6 1245.6h0M748.3 1242.4h0M740.8 1241.7h0M735.9 1244.1h0M730.9 1247.5h0M728.1 1251.8h0M725.5 1256.2h0M719.1 1258h0M714 1260.3h0M711.6 1266h0M710 1271.6h0M704.7 1271.8h0M698.5 1270.3h0M692.8 1268.6h0M689.1 1264.6h0M686.1 1259.1h0M681.3 1258.1h0M673.9 1260.4h0M673.3 1264.7h0M672.3 1270.2h0M671.5 1276.9h0M668.6 1282.5h0M665.7 1286.3h0M659.9 1289.7h0M654.5 1290.4h0M648.5 1290.6h0M643.1 1290.9h0M637.1 1289.8h0M632.7 1290.9h0M626.5 1294.3h0M620.9 1296h0M615.5 1295.7h0M614.2 1296.1h0M620.7 1295.4h0M626.1 1295.7h0M632.2 1296.1h0M638.2 1297.5h0M637.3 1304.2h0M635.2 1309.8h0M632.4 1314h0M628.5 1319.5h0M623.3 1321.7h0M616.4 1321.7h0M490.5 1447.1h0M483.2 1449h0M477.3 1449.9h0M471.9 1451.1h0M467.8 1454h0M462.4 1457.2h0M457.9 1459.1h0M451.4 1459.7h0M444.7 1458.8h0M439.7 1457.1h0M436.4 1462.1h0M432.6 1466h0M425.9 1465.4h0M422.8 1468.6h0M430 1467.2h0M435.4 1465.1h0M441.3 1463.9h0M446.6 1465.2h0M452.7 1465.3h0M457.9 1465.6h0M457.8 1471h0M455.1 1476.7h0M451.4 1479.8h0M446 1483.5h0M447.3 1486.1h0M453 1485.9h0M459.1 1485.9h0M465.4 1485.3h0M471.4 1486.4h0M476.6 1485.7h0M483.1 1485.1h0M487.8 1486.2h0M495.1 1485.9h0M500.3 1485.8h0M506.9 1486.1h0M511.7 1485h0M518 1486.1h0M524.8 1485.4h0M526.1 1480.6h0M525 1475.2h0M528.5 1470.7h0M533.9 1466.7h0M537.1 1462.1h0M541.7 1458.4h0M546.9 1455h0M551.9 1454.4h0M553.3 1448h0M553.3 1442.2h0M550.3 1438.1h0M547.5 1433h0M541.6 1433.5h0M538.4 1439.2h0M535.3 1444.5h0M530 1447.1h0M525.2 1446.6h0M518.5 1448.5h0M512 1446.4h0M507.2 1445.9h0M502.1 1444.4h0M494.6 1447.2h0M490.4 1467.3h0M488 1473.2h0M484.7 1475.6h0M478.6 1473.4h0M475.3 1469.4h0M475.1 1462.8h0M474.9 1457.8h0M479.8 1453h0M483.7 1451h0M491 1451h0M496.5 1452.4h0M495.5 1457.4h0M491.8 1462.1h0M607 1320.1h0M608.4 1320.3h0M534.8 1321.3h0M535 1322.4h0M601.1 1343.5h0M605.3 1339.9h0M608.2 1336.1h0M607.4 1333h0M603.2 1336.2h0M598.8 1340.3h0" fill="none" stroke="#fa8b0c" stroke-width="10.4" stroke-linecap="round"/>
</g>
</g>
<g id="panel-f">
<path d="M1107.6 1108.5H1796.7M1107.6 1490.2H1795.2" fill="none" stroke="#000" stroke-width="2.6"/>
<path d="M1120.6 1108.5V1502.2M1795.2 1108.5V1502.2" fill="none" stroke="#000" stroke-width="3.0"/>
<path d="M1107.6 1235.7H1120.6M1107.6 1363H1120.6" fill="none" stroke="#000" stroke-width="2.5"/>
<path d="M1457.9 1490.2V1502.2M1204.9 1490.2V1498.8M1289.2 1490.2V1498.8M1373.6 1490.2V1498.8M1542.2 1490.2V1498.8M1626.5 1490.2V1498.8M1710.9 1490.2V1498.8" fill="none" stroke="#000" stroke-width="2.7"/>
<text x="1083.6" y="1122.2" font-size="48.5" text-anchor="end">1.2</text>
<text x="1083.6" y="1249.4" font-size="48.5" text-anchor="end">0.8</text>
<text x="1083.6" y="1376.7" font-size="48.5" text-anchor="end">0.4</text>
<text x="1083.6" y="1503.9" font-size="48.5" text-anchor="end">0</text>
<text x="1120.6" y="1552.5" font-size="48.5" text-anchor="middle">32</text>
<text x="1457.9" y="1552.5" font-size="48.5" text-anchor="middle">34</text>
<text x="1795.2" y="1552.5" font-size="48.5" text-anchor="middle">36</text>
<text x="1458.5" y="1613" font-size="48.5" text-anchor="middle">Salinity</text>
<text x="1143.1" y="1157.1" font-size="41" font-weight="bold">f</text>
<clipPath id="clip-f"><rect x="1100.6" y="1088.5" width="714.6" height="421.7"/></clipPath>
<g clip-path="url(#clip-f)">
<path d="M1240.3,1409.2 1249.5,1439.1 1249.3,1441.2 1248,1443.3 1246.4,1444.5 1243.2,1445.2 1245.1,1449.6 1246.5,1449.9 1248,1448.7 1249.9,1448 1253.3,1448.7 1254.7,1450.1 1258.5,1456.5 1269.4,1465.6 1298.2,1480 1312.9,1483.7 1330.7,1485.4 1350.2,1486.3 1351.3,1485.9 1351.4,1484.7 1350.5,1484 1330.9,1483.1 1313.4,1481.4 1299,1477.8 1270.7,1463.6 1260.6,1455.2 1253.2,1442.7 1242.7,1409.7 1241.7,1391.7 1242.6,1371.6 1237.9,1363.9 1236.9,1363.5 1236,1364.1 1235.9,1365 1239.7,1371.2 1240.2,1373.2 1239.4,1391.6ZM1361.5,1484.3 1362.8,1484.9 1419.9,1485.1 1420.4,1484.6 1419.9,1484.2 1362.1,1483.9ZM1203.7,1300.4 1203.7,1305.4 1212.7,1316.9 1213.5,1319.4 1208.4,1348.8 1210.7,1356.5 1210.7,1358.4 1206.7,1366.1 1214.9,1368.9 1217.9,1371 1218.6,1365.3 1222,1349.7 1218.5,1311.2 1217.6,1293.4 1212.4,1258.5 1208.1,1248.4 1205.1,1237.5 1205.4,1243.4 1203.1,1251.3 1205.3,1255.9 1207.2,1271.8 1206.1,1274.7 1203.1,1277.2 1203.2,1278.3 1211.4,1281.1 1213.6,1283 1214.4,1285.4 1215.3,1298.4 1214,1301.6 1211,1303.2 1208.1,1302.9Z" fill="#981f9c" fill-rule="evenodd" stroke="#981f9c" stroke-width="1.5" stroke-linejoin="round"/>
<path d="M1203.6 1179.5h0M1203.6 1184.8h0M1205.4 1199.1h0M1203.9 1208.9h0M1205.4 1214.3h0M1203.9 1221.4h0M1203.6 1228.6h0M1281.1 1455.2h0M1702.2 1483.6h0M1700.7 1485.8h0M1708.4 1486.1h0M1239.3 1411.8h0M1242.1 1418.9h0M1243.8 1424.2h0M1245 1429.4h0M1246.2 1435.6h0M1248.8 1439.6h0M1244.8 1443.8h0M1243.4 1446.9h0M1247.3 1451.9h0M1252.1 1449.6h0M1256.4 1454.2h0M1259.7 1457.8h0M1262.9 1463h0M1267.2 1465.2h0M1273.7 1469.5h0M1279.3 1471.8h0M1282.8 1474.4h0M1288.1 1475.8h0M1294.2 1479h0M1298.9 1482.1h0M1305.9 1482.6h0M1310.1 1483.5h0M1316.4 1485.5h0M1322.4 1485.6h0M1328.8 1485.8h0M1334.7 1487.1h0M1339.3 1487.1h0M1346.7 1487.7h0M1352.2 1487.8h0M1350.6 1483.8h0M1343.4 1481.8h0M1338.8 1482.8h0M1332 1482.3h0M1326.8 1480.9h0M1319.9 1481.6h0M1314.2 1479.9h0M1308.3 1480h0M1303.1 1477.2h0M1297.3 1475.7h0M1292.5 1473h0M1287.3 1470.8h0M1282.3 1468.5h0M1276.4 1466.2h0M1271.4 1463.7h0M1267.8 1459.8h0M1263.3 1455.3h0M1259.7 1450.6h0M1256.5 1446.5h0M1253 1441h0M1252.1 1435.8h0M1249.8 1429.9h0M1248.8 1424.7h0M1246.1 1418.3h0M1244.3 1412.7h0M1243.2 1406.9h0M1243.9 1401.2h0M1242.5 1395.3h0M1242.4 1389.2h0M1243.9 1382.9h0M1243.6 1377.5h0M1244.4 1371.9h0M1241.5 1366h0M1236.5 1363.4h0M1235.5 1367h0M1238.6 1372.3h0M1239.4 1377.3h0M1239.5 1383.7h0M1239.2 1388.2h0M1239 1394.8h0M1239.7 1400.3h0M1238.5 1406.9h0M1363 1485.2h0M1368.2 1485.2h0M1375.2 1485.2h0M1381.1 1485.4h0M1387.3 1485.6h0M1392.9 1485.5h0M1399.2 1486.4h0M1404.8 1485.1h0M1411.4 1487h0M1417.3 1485.8h0M1420.9 1484.7h0M1415.4 1483.7h0M1410.1 1483.3h0M1404 1483.4h0M1397.3 1482.7h0M1392.8 1483.1h0M1386.4 1483.7h0M1379.4 1483.5h0M1374.8 1482.5h0M1367.9 1482.1h0M1363 1482h0M1208.3 1355h0M1209.3 1359.2h0M1205.3 1365.6h0M1209.9 1367.6h0M1215.1 1370.5h0M1219.2 1371.1h0M1218.8 1366.2h0M1220.2 1359.7h0M1222 1354.1h0M1223 1349.3h0M1221.6 1342.8h0M1221.3 1337.5h0M1220.6 1331.3h0M1220.3 1325.4h0M1219.7 1320.1h0M1219.7 1313.8h0M1220.1 1307.8h0M1218.2 1300.9h0M1218.5 1296.8h0M1218.3 1290.4h0M1216.4 1284.1h0M1215.9 1277.7h0M1215.9 1273.3h0M1215.3 1266.7h0M1213.1 1261.7h0M1212.5 1254.7h0M1209.5 1250.5h0M1207.3 1244h0M1206 1238.7h0M1203 1234.3h0M1203.8 1240.1h0M1202.9 1245.6h0M1201.8 1252.7h0M1204 1257.5h0M1205.9 1263.2h0M1205.2 1269.1h0M1204.8 1273.6h0M1202.2 1279.2h0M1206.8 1280.1h0M1212.1 1282.9h0M1213.8 1288.6h0M1213.4 1295.9h0M1213.4 1301.3h0M1208.3 1302.4h0M1203 1298.7h0M1202 1305.3h0M1205.8 1310.2h0M1209.8 1314h0M1212.6 1318.8h0M1211.4 1325.3h0M1211 1331.1h0M1208.9 1336.5h0M1208.4 1343.5h0M1207.8 1348.6h0M1217.9 1415.1h0M1218.3 1410.5h0M1217.3 1404.1h0M1219.9 1398.8h0M1220.9 1394.3h0M1219.4 1390.7h0M1218.1 1397.4h0M1218.2 1402.8h0M1217.6 1407.6h0M1216.2 1414.1h0" fill="none" stroke="#981f9c" stroke-width="10.2" stroke-linecap="round"/>
<path d="M1536.3,1385.1 1539.3,1387.2 1541.5,1393.2 1537.8,1409.1 1529.9,1423.3 1523.7,1428.3 1523.7,1446.9 1525.3,1462.7 1530.9,1468.3 1533.2,1467.7 1540.5,1455.9 1543.7,1440.1 1540.3,1423.4 1547,1407.7 1548.6,1406 1557.8,1399.9 1566.3,1386.7 1569.6,1384.9 1573.1,1380.2 1578.3,1370 1580.2,1368.5 1582.6,1368.1 1585.8,1369.4 1588.6,1373 1593.5,1384.9 1597,1385.8 1599.9,1389.5 1607.3,1409.7 1610.7,1421.6 1612.6,1422.3 1614,1423.5 1622.4,1423.9 1624.4,1425.4 1625.3,1427.2 1627.2,1438.9 1626.8,1441.4 1624.9,1443.6 1616.4,1447.8 1619.8,1451.7 1620.2,1453.6 1619.9,1455.6 1618.9,1457.2 1609.8,1465.5 1665.8,1484.2 1687.6,1484.2 1685,1465.6 1680.1,1454.1 1673.3,1442.2 1664.8,1432 1659.9,1427.1 1649.6,1430.1 1647.6,1429.9 1645.9,1429.1 1639.4,1419 1635.5,1414 1634.9,1411.6 1634.9,1376 1627.5,1368.6 1618.4,1357.8 1616.8,1358.4 1614.8,1358.4 1607,1355.8 1603.1,1351.8 1600.2,1343.9 1598.7,1341.7 1597.8,1336.2 1593.3,1333.8 1591.7,1331.8 1589.7,1325 1588.7,1317.1 1574.6,1299.1 1574.2,1282.8 1572.1,1280 1563.6,1283.2 1559.4,1294.5 1559.2,1301.2 1555.8,1314.9 1554.9,1316.7 1553.4,1318.1 1551.5,1318.7 1549.5,1318.5 1546.4,1317.3 1543.6,1325.7 1549.1,1342.1 1549.2,1344.7 1546.5,1353.8 1545.4,1355.6 1545.4,1357.6 1541.3,1377.2 1538.9,1383ZM1420.5,1464.4 1420.8,1465.3 1441.2,1470.8 1451.5,1474.2 1459.2,1474.2 1467,1475.2 1470,1474.2 1495.5,1474.2 1489,1467.3 1488,1458.1 1486.2,1459.1 1483.8,1459.3 1476.9,1456.1 1469.6,1457.5 1466.9,1456.2 1465.4,1453.6 1465.5,1451.1 1466.4,1449.3 1474.3,1441.4 1476.5,1440.4 1479,1440.5 1480.8,1441.5 1487.5,1449.7 1486.7,1437.1 1483.3,1421.9 1477.8,1408.8 1475.8,1384.3 1473,1392.4 1465.7,1403.5 1459.8,1408.3 1461.2,1416.4 1463,1440.2 1460.2,1451.7 1459.3,1453.5 1457,1455.3 1449.8,1457.1 1430.3,1459.3 1421.8,1461.8Z" fill="#0a62b0" fill-rule="evenodd" stroke="#0a62b0" stroke-width="1.5" stroke-linejoin="round"/>
<path d="M1253.6 1339.3h0M1324.5 1335.7h0M1361.1 1349.1h0M1500.7 1304.3h0M1507.9 1304.3h0M1502.5 1313.2h0M1503.4 1329.3h0M1504.3 1332.9h0M1360.9 1351.6h0M1361.4 1351.6h0M1376.6 1411.8h0M1380.2 1441.8h0M1344.5 1455.2h0M1343.6 1468.6h0M1351.6 1471.2h0M1369.5 1463.6h0M1378.4 1472.1h0M1382.9 1467.7h0M1391.8 1466.8h0M1398.9 1467.7h0M1405.2 1467.1h0M1400.7 1479.3h0M1441.8 1472.1h0M1413.2 1443.6h0M1418.6 1443.6h0M1436.4 1441.8h0M1443.6 1445.4h0M1394.5 1445.4h0M1583.8 1401.6h0M1590 1407.9h0M1593.6 1415h0M1582 1434.6h0M1598.9 1443.6h0M1606.1 1442.7h0M1611.4 1450.7h0M1593.6 1457.9h0M1591.8 1465h0M1566.8 1464.1h0M1568.6 1472.1h0M1607.9 1463.2h0M1532 1383.8h0M1527.5 1404.3h0M1523.9 1413.2h0M1253.6 1339.3h0M1324.5 1336.1h0M1360.7 1351.8h0M1251.8 1401.8h0M1376.2 1412h0M1265.5 1444.5h0M1255.4 1472.7h0M1267.9 1468.2h0M1324.5 1472.7h0M1343.6 1455.4h0M1341.4 1466.4h0M1337.9 1472.7h0M1350.4 1470.9h0M1369.6 1463.8h0M1379.8 1441.8h0M1378 1471.8h0M1384.3 1468.2h0M1391.4 1467.3h0M1398.6 1467.3h0M1405.7 1466.8h0M1401.2 1479.5h0M1414.6 1445h0M1396.8 1444.1h0M1437.9 1443.2h0M1442.3 1472.7h0M1583.8 1401.8h0M1592.7 1407.1h0M1594.5 1414.3h0M1582.3 1434.5h0M1566.8 1465.2h0M1568.6 1473.2h0M1593.6 1458.9h0M1590.9 1466.1h0M1543.6 1433.9h0M1547.1 1439.3h0M1545.4 1455.4h0M1588.2 1474.1h0M1544.2 1319.4h0M1542.2 1324.6h0M1543.7 1330.6h0M1546.2 1335.4h0M1547.8 1341.3h0M1548.3 1347h0M1546 1351.8h0M1545.1 1358.3h0M1542.6 1364.3h0M1541.8 1368.6h0M1540.6 1374.6h0M1538.9 1381.6h0M1535.3 1384.7h0M1536.6 1385.4h0M1539 1390.7h0M1540.6 1395.5h0M1537.9 1401.3h0M1537.8 1407.6h0M1535 1412.2h0M1531 1418.6h0M1528.8 1423.4h0M1524 1426.9h0M1522.8 1432.1h0M1521.8 1437.8h0M1523.1 1443.5h0M1523.1 1449.5h0M1522.6 1454.7h0M1523.3 1460.5h0M1526.8 1465.2h0M1530.8 1469h0M1535.3 1465.8h0M1539.3 1460.6h0M1542 1455.3h0M1543 1449.7h0M1543.3 1444.8h0M1544.3 1438h0M1543.2 1433.3h0M1541.3 1427.2h0M1542.4 1421.4h0M1544.2 1416.7h0M1547 1410.8h0M1550 1405.6h0M1555.2 1401.9h0M1559.9 1399.7h0M1563.7 1394.3h0M1565.7 1389h0M1570 1384.6h0M1574.7 1380.8h0M1576.2 1375.6h0M1579.7 1370.8h0M1584.6 1369.4h0M1587.6 1375.2h0M1590.9 1380.8h0M1591.7 1385h0M1597.8 1387.4h0M1601 1393.1h0M1601.7 1399.2h0M1604.5 1403.6h0M1606.7 1409.1h0M1608 1415.9h0M1608.5 1421.5h0M1613.9 1424.6h0M1619.7 1424.9h0M1624.8 1427.6h0M1625 1431.8h0M1627 1438.7h0M1624.2 1443.4h0M1617.8 1445.3h0M1615.1 1448.2h0M1619.2 1451.9h0M1616.4 1457.7h0M1612 1460.4h0M1608.3 1464.7h0M1613.1 1467.8h0M1618.5 1470.3h0M1623.6 1470.4h0M1629.9 1472.9h0M1636.1 1475.5h0M1641.1 1477.7h0M1646.8 1478.4h0M1651.4 1480.4h0M1658.4 1481.7h0M1662.5 1484h0M1668.3 1485h0M1674.9 1484.4h0M1680.3 1485.5h0M1687.1 1485.2h0M1688.5 1481h0M1687.7 1476.3h0M1687.3 1470h0M1686.2 1463.9h0M1683.6 1458.6h0M1680.7 1453h0M1678 1448.4h0M1674.9 1442.3h0M1672.4 1437.7h0M1666.9 1434.2h0M1664.5 1429.6h0M1659.5 1426.3h0M1653.2 1427.9h0M1648.9 1428.7h0M1643.6 1425.4h0M1641.5 1419.9h0M1637.7 1414.5h0M1635 1410.3h0M1635.8 1404.3h0M1636.1 1397.5h0M1636.1 1391.9h0M1635.6 1385.7h0M1636.5 1380.2h0M1635.4 1374.8h0M1631.5 1371.5h0M1626.1 1365.9h0M1623.2 1361.7h0M1619.9 1358.2h0M1613.9 1357.9h0M1608.2 1355.6h0M1603.6 1351.1h0M1601.8 1346.2h0M1600 1340h0M1598.6 1336.2h0M1593.1 1332.7h0M1591.8 1327.7h0M1590 1320.5h0M1588.8 1315.6h0M1585 1311h0M1581.9 1306.1h0M1578 1302.4h0M1575.9 1297.5h0M1575.2 1291.1h0M1574.8 1285.6h0M1572.8 1279.2h0M1568.5 1280.5h0M1562 1283.4h0M1561 1288.1h0M1558.8 1293.1h0M1557.9 1300.3h0M1558 1305.3h0M1555.9 1311.1h0M1554.4 1316.2h0M1548.9 1316.2h0M1605.1 1444.4h0M1604 1445.6h0M1610.2 1445.8h0M1419.2 1464.7h0M1424.6 1467h0M1431.2 1469.6h0M1436.2 1470.9h0M1442.3 1472.1h0M1448 1473.6h0M1452.8 1474.8h0M1459.2 1475.4h0M1464.5 1475.7h0M1469.6 1475.9h0M1476.6 1474.6h0M1480.9 1475h0M1486.6 1475h0M1492.5 1474.5h0M1497.3 1474.3h0M1493.4 1469.6h0M1490.1 1466.6h0M1489.5 1459.5h0M1489.4 1454.3h0M1488.4 1448.8h0M1487.9 1442.8h0M1488 1436.5h0M1486.8 1430.7h0M1485.7 1425.2h0M1483.5 1419h0M1480.8 1414.4h0M1479.2 1409.2h0M1479.2 1402.7h0M1478.5 1396.7h0M1476.9 1391.2h0M1476.8 1384.9h0M1475.3 1379.6h0M1474.7 1384.9h0M1472.1 1391.2h0M1468.4 1396.6h0M1465.5 1400.5h0M1461.9 1405.4h0M1459 1410h0M1459.7 1415.1h0M1460 1420.7h0M1460.2 1426.8h0M1460.7 1433.6h0M1462.7 1438.2h0M1460.4 1443.8h0M1459.6 1450h0M1456.9 1455h0M1450.1 1455.3h0M1445.4 1457.4h0M1440 1457.9h0M1432.6 1458.1h0M1427.8 1458.2h0M1422.8 1461.1h0M1488.1 1457h0M1484.1 1458.1h0M1478.4 1455.4h0M1472.6 1455.6h0M1467.6 1455h0M1466.6 1450.1h0M1471.6 1445.5h0M1474.6 1441.6h0M1481 1442.6h0M1484.5 1447.5h0M1487.7 1450.6h0M1504.9 1474.7h0M1507.9 1473.6h0M1537.5 1310.7h0M1540.8 1310.4h0M1477.8 1372.2h0M1477 1370.7h0" fill="none" stroke="#0a62b0" stroke-width="10.2" stroke-linecap="round"/>
<path d="M1512.5,1484.9 1541.3,1485.1 1682.2,1485.1 1680.2,1483.1 1663.8,1478.2 1646.5,1474.7 1605.1,1472 1597.1,1475.7 1576.2,1481.9 1557.9,1483.7 1542.9,1482.2 1540.3,1483.1 1536.3,1482.6 1525.7,1483.6 1523.8,1483.2 1522,1482 1519.1,1484.2ZM1520.6,1475.1 1520.6,1466 1518.3,1460.5 1518.3,1474.2ZM1372.4,1355.9 1373.2,1358.8 1379.7,1365.4 1383.4,1372.4 1384.9,1371.7 1389.8,1365.1 1391.5,1363.9 1394.1,1363.5 1400.3,1364.7 1406.3,1356.2 1406.5,1352.9 1410.2,1339.9 1416.1,1328.3 1426.2,1318.1 1433.8,1312.4 1436.5,1311.7 1430.8,1308.3 1426.9,1310.3 1418.9,1318.3 1413.9,1325 1408.9,1333.3 1405,1342.7 1398.3,1351.3 1395.9,1352.2 1385.9,1352.2 1378.3,1349.1 1375.8,1349.7 1373.9,1354.1ZM1439.8,1313 1444.5,1319.8 1445.1,1322.7 1444.1,1325.1 1442.7,1326.5 1435.1,1328.6 1432.6,1330.5 1434,1332.7 1434.4,1334.5 1432.7,1345.4 1434.4,1357.6 1433.8,1360.1 1429.7,1368.2 1423.5,1374.3 1420.3,1375.2 1412.8,1374 1407.5,1378.2 1406.7,1402.4 1407.5,1419.3 1406.9,1421.2 1401.8,1428 1401.1,1430.9 1406.1,1434.9 1414,1434.9 1423.9,1431.3 1432.6,1434.4 1439.7,1431.3 1441.8,1431.7 1445.4,1433.4 1449.4,1427.4 1450.9,1416.8 1449.2,1406.4 1450.2,1403.1 1457.7,1397.2 1464.3,1387.2 1466.2,1385.5 1468.6,1384.9 1483,1385.1 1485.1,1386.4 1486.4,1388.6 1487.9,1406.6 1493.1,1418.8 1496.8,1435.3 1496.9,1460 1498.6,1462.9 1500,1461.9 1503.6,1451.4 1510.3,1444.6 1513.4,1429.3 1509.9,1412.1 1506.4,1385.3 1503.2,1345.1 1501.1,1345 1499.3,1344.2 1497.3,1341.5 1492.1,1312.3 1490.3,1297.4 1492,1282.9 1490.3,1271.3 1487.2,1258.7 1484.3,1255.8 1480.6,1255.8 1478.7,1255.2 1477.1,1253.9 1476.2,1252.2 1476,1217.8 1473.4,1211.8 1472.8,1225.6 1474.6,1243.4 1475.5,1279.2 1475.1,1281.1 1469.6,1292.3 1468.3,1293.9 1465,1295.1 1459.2,1294 1456.8,1299.8 1450.6,1308 1442.3,1312.4ZM1419.6,1397.8 1417.7,1398.6 1415.7,1398.6 1413.4,1397.4 1412.2,1395.8 1410.9,1389.2 1411.9,1386.9 1413.9,1385.3 1423.1,1385 1425.4,1386.1 1426.9,1388.1 1427.2,1390.5 1426.4,1392.8ZM1362.2,1382.9 1362.6,1384.5 1364.7,1388 1363.9,1385.2Z" fill="#fa8b0c" fill-rule="evenodd" stroke="#fa8b0c" stroke-width="1.5" stroke-linejoin="round"/>
<path d="M1395.9 1286.6h0M1395.9 1292h0M1398.6 1301.4h0M1393.2 1311.6h0M1405.7 1309.8h0M1442 1289.3h0M1395 1333.9h0M1377.1 1345.5h0M1395.9 1286.4h0M1395.9 1290.9h0M1398.9 1300.7h0M1393.2 1311.4h0M1405.2 1310.5h0M1441.8 1289.1h0M1395.4 1333.8h0M1361.4 1380.2h0M1357.9 1384.6h0M1377.5 1385.5h0M1366.8 1377.5h0M1377.5 1385.5h0M1397.1 1445.4h0M1517.7 1459.8h0M1518 1467.1h0M1517.3 1472.7h0M1520.6 1476.5h0M1522.2 1473.8h0M1520.8 1468.7h0M1521.2 1463.1h0M1521.4 1480.2h0M1518 1483h0M1511.1 1484.4h0M1506.2 1485.1h0M1504.7 1486.8h0M1510.7 1485.7h0M1516.8 1486h0M1523.4 1485.6h0M1528.9 1486.5h0M1534.3 1486.4h0M1541.5 1485.8h0M1547.4 1485.7h0M1551.6 1486.6h0M1559 1485.6h0M1563.9 1485.3h0M1570.4 1485.7h0M1575.2 1485.2h0M1582 1486.7h0M1588.5 1486.5h0M1593.4 1487h0M1600.4 1485.6h0M1606.1 1487h0M1612 1485.4h0M1617.5 1485.5h0M1623.3 1485.5h0M1629 1485.4h0M1635.4 1485.9h0M1641.8 1486.8h0M1646.1 1486.9h0M1653.5 1485.8h0M1657.9 1485.2h0M1664.7 1485.2h0M1671.1 1485.9h0M1677 1486.9h0M1682.5 1486.8h0M1680.1 1483h0M1674.8 1481.4h0M1669.8 1478.2h0M1664.7 1477.5h0M1657.7 1475.8h0M1653 1474.2h0M1646 1473.3h0M1641.7 1472.5h0M1634.1 1472.3h0M1629.2 1473.4h0M1623.6 1471.8h0M1618.2 1471.3h0M1610.7 1470.9h0M1606.2 1470.5h0M1600.5 1473.5h0M1595.6 1475.9h0M1588.9 1476.2h0M1584.1 1479.3h0M1577.1 1480.9h0M1571.8 1480.8h0M1567.1 1481.2h0M1560.4 1482.7h0M1555.3 1482.9h0M1548.3 1481.1h0M1542.9 1481.1h0M1537.5 1481.7h0M1531.3 1481.6h0M1525.8 1482h0M1374.5 1361.8h0M1378.7 1365.9h0M1381 1370.6h0M1384.6 1372.1h0M1388.8 1367.7h0M1391.7 1365.3h0M1398.3 1365.7h0M1402.7 1363.3h0M1405.7 1358.6h0M1408 1352.7h0M1409.1 1347.8h0M1410.3 1340.7h0M1413.1 1336.9h0M1416.5 1330.1h0M1418.8 1326.1h0M1424.1 1321.4h0M1427.9 1317.4h0M1433.2 1315.5h0M1438.7 1313.7h0M1441 1316.9h0M1444.7 1322.2h0M1439.5 1327.1h0M1435 1327.8h0M1431.3 1331.5h0M1433.4 1337h0M1432.7 1343.5h0M1432.8 1349.1h0M1432.5 1354.6h0M1433 1360.9h0M1430.5 1366.3h0M1425.7 1370.4h0M1421.8 1374.3h0M1415.5 1373.4h0M1410.4 1375h0M1406.8 1378.5h0M1405.8 1384.3h0M1405.2 1389.1h0M1406 1395.6h0M1406.2 1402h0M1405.9 1408h0M1405.7 1413.7h0M1407.2 1418.7h0M1402.8 1423.5h0M1400.7 1428.2h0M1402.1 1432.8h0M1408.1 1435.5h0M1413.2 1436.5h0M1418.8 1433.3h0M1425.5 1433.3h0M1429.8 1435.1h0M1434.7 1433.5h0M1441.4 1431.9h0M1446.9 1434h0M1450 1428.6h0M1450.6 1424.1h0M1452.3 1417.8h0M1451.8 1412.5h0M1449.6 1405.7h0M1453.2 1402.4h0M1457.5 1398.2h0M1462 1392.7h0M1464.1 1389.5h0M1468.9 1385.6h0M1474.4 1385h0M1480.9 1386.8h0M1485.5 1389.5h0M1485.3 1394.7h0M1487.3 1401.6h0M1486.3 1406.4h0M1488.3 1411.4h0M1490.6 1417.5h0M1493.2 1423.8h0M1495 1428.2h0M1494.7 1434.4h0M1496.4 1440.3h0M1496.7 1446.2h0M1495.4 1451.7h0M1496.6 1458.5h0M1498.4 1462.9h0M1502 1461h0M1503.7 1456.2h0M1505.4 1450.7h0M1510.6 1446.1h0M1511.5 1440.2h0M1513.9 1436h0M1513.8 1430.1h0M1513.7 1424.2h0M1512.3 1417.9h0M1511.5 1412.5h0M1511 1407.2h0M1510.3 1399.8h0M1509 1393.9h0M1508.7 1389.6h0M1507.2 1382.7h0M1506.4 1376.8h0M1506.8 1372h0M1506.5 1365.2h0M1505.1 1359h0M1504.7 1352.9h0M1504.6 1347.7h0M1502 1343.8h0M1497.7 1340.3h0M1496.3 1334.5h0M1495.2 1329.6h0M1494.1 1322.5h0M1493.4 1317.8h0M1492.3 1312.3h0M1493 1305.2h0M1491.1 1300.6h0M1490.8 1294.4h0M1492.4 1288.9h0M1492.8 1282.2h0M1493 1277.1h0M1490.5 1271.2h0M1489.8 1264.6h0M1489.3 1258.6h0M1485.8 1255.8h0M1479.4 1254h0M1476.4 1249.2h0M1477.4 1243.8h0M1477.9 1238.1h0M1476.9 1232.2h0M1476.2 1225.7h0M1477 1220.6h0M1475.8 1214.9h0M1473.3 1208.1h0M1472.4 1213.4h0M1471.6 1218.6h0M1471.6 1224.3h0M1473.1 1230.6h0M1473.3 1237.1h0M1472.8 1242h0M1472.9 1248.1h0M1474.1 1253.7h0M1473.2 1260.7h0M1473.9 1265.5h0M1473.8 1271.7h0M1473.6 1277.5h0M1473.5 1282.7h0M1471.1 1289.3h0M1467 1292.8h0M1461.3 1293.7h0M1458.1 1294.8h0M1454.7 1300.7h0M1451.2 1304.5h0M1446.1 1308.3h0M1442.1 1310.7h0M1435.9 1309.9h0M1431 1307h0M1425.6 1310.4h0M1421.4 1313.1h0M1417.5 1317.1h0M1414.7 1323.2h0M1411.3 1328.5h0M1408 1332.3h0M1406.6 1337.9h0M1403 1343.8h0M1399.7 1348.1h0M1395.8 1352.1h0M1388.4 1351.3h0M1383.3 1350.3h0M1378.1 1348.3h0M1373.8 1350.5h0M1371.3 1355.7h0M1415.8 1397.4h0M1412.4 1394.2h0M1411.7 1388h0M1417.5 1386.8h0M1423.6 1386.2h0M1426.9 1391.6h0M1422.3 1394.5h0M1424.2 1486h0M1431.7 1485.6h0M1437.3 1486.4h0M1442.2 1486.2h0M1448.9 1486.1h0M1454 1485.1h0M1460.5 1485.9h0M1466.5 1485.7h0M1472.1 1485.9h0M1477.8 1486.1h0M1484.7 1486.6h0M1487.3 1485.7h0M1481 1484.3h0M1476.1 1485.8h0M1469.1 1485h0M1463.6 1485.6h0M1457.9 1484.4h0M1451.8 1484.4h0M1446.5 1484.2h0M1440 1485.1h0M1434.1 1485.5h0M1428.4 1484.3h0M1367.2 1390.5h0M1365.1 1385.7h0M1361.1 1381.6h0M1363.4 1386h0M1364.9 1390.7h0" fill="none" stroke="#fa8b0c" stroke-width="10.2" stroke-linecap="round"/>
<path d="M1472.1 1325.7h0M1478.1 1363.4h0M1478.6 1369.8h0M1478.5 1376.8h0M1477.9 1383h0M1477.8 1390.2h0" fill="none" stroke="#0a62b0" stroke-width="10.2" stroke-linecap="round"/>
</g>
</g>
<g id="panel-g">
<path d="M159.5 1645.9H876.3M159.5 2026.6H874.8" fill="none" stroke="#000" stroke-width="2.6"/>
<path d="M172.5 1645.9V2038.6M874.8 1645.9V2038.6" fill="none" stroke="#000" stroke-width="3.0"/>
<path d="M159.5 1772.8H172.5M159.5 1899.7H172.5" fill="none" stroke="#000" stroke-width="2.5"/>
<path d="M406.6 2026.6V2038.6M640.7 2026.6V2038.6M289.6 2026.6V2035.2M523.6 2026.6V2035.2M757.8 2026.6V2035.2" fill="none" stroke="#000" stroke-width="2.7"/>
<text x="135.5" y="1659.6" font-size="48.5" text-anchor="end">3</text>
<text x="135.5" y="1786.5" font-size="48.5" text-anchor="end">2</text>
<text x="135.5" y="1913.4" font-size="48.5" text-anchor="end">1</text>
<text x="135.5" y="2040.3" font-size="48.5" text-anchor="end">0</text>
<text x="172.5" y="2088.5" font-size="48.5" text-anchor="middle">0</text>
<text x="406.6" y="2088.5" font-size="48.5" text-anchor="middle">10</text>
<text x="640.7" y="2088.5" font-size="48.5" text-anchor="middle">20</text>
<text x="874.8" y="2088.5" font-size="48.5" text-anchor="middle">30</text>
<text x="525.5" y="2136.7" font-size="48.5" text-anchor="middle">Particulate carbon (<tspan font-style="italic">µ</tspan>M)</text>
<text x="195" y="1696" font-size="41" font-weight="bold">g</text>
<clipPath id="clip-g"><rect x="152.5" y="1625.9" width="742.3" height="420.7"/></clipPath>
<g clip-path="url(#clip-g)">
<path d="M296.2,1865.9 298.9,1869.2 305,1872.2 305.6,1868.9 307.7,1866.9 315.7,1863 325.1,1861.1 327.1,1861.1 328.9,1861.9 337.6,1869.7 341.6,1865.2 333.6,1857.5 323.7,1850.9 312.1,1846 302.9,1844.4 296.6,1845.4 295.4,1853.8ZM355.2,1863.4 358.6,1866.9 360.2,1864.1 368.9,1857.8 382.2,1857.5 381.8,1854.9 383,1848.4 381.8,1847.3 370,1849.3 365.3,1855.4ZM307.7,1878.2 306.8,1880 300.9,1886.1 305,1884.4 306.9,1884.3 314.2,1887.5 318.5,1886.4 319.9,1885.3 311,1882.9 309.3,1881.3ZM262.7,1856.1 260.7,1853.8 260.3,1851.3 262.2,1841.6 266,1827.5 267.2,1826 268.9,1825.2 281.1,1825 282.9,1823.2 280.9,1819.2 280.6,1816.7 284,1806.5 285.8,1804.3 288.6,1803.5 300.8,1804.7 288.2,1793.9 287.2,1791.6 287.3,1789.2 289.4,1786.4 297,1782.6 304.7,1780.6 310,1777.9 313.9,1771.5 313.9,1762 309,1755.4 308.5,1753.5 308.8,1751.5 310.2,1749.5 318.1,1743.5 324.4,1741.7 324.9,1740.7 324.2,1740.2 308.8,1737.4 306.1,1741 294.4,1748.8 284.7,1751.1 273.5,1749.3 271.5,1748.5 263.2,1740.3 259.7,1733.5 258.4,1732.6 257,1733.6 257.9,1736.5 257.6,1738.9 248.7,1756.8 246.3,1765.2 251.4,1768.2 262.9,1772.3 271.6,1781.2 272.2,1783.6 271.6,1786 265.1,1792.8 265.1,1806.8 271.4,1814.7 272.2,1817.9 271.4,1820.2 269.2,1822.4 255.6,1829.3 247.8,1835.5 244.1,1841.7 246.6,1849.1 251.7,1854.2ZM297,1759.4 300.3,1759 302.9,1760.4 307.3,1766.9 307.9,1769.9 307.2,1771.8 305.9,1773.3 298.3,1779 295,1779.6 293.2,1779 291.4,1777.3 287.4,1769.3 287.1,1766.9 287.8,1765 289,1763.5Z" fill="#981f9c" fill-rule="evenodd" stroke="#981f9c" stroke-width="1.5" stroke-linejoin="round"/>
<path d="M407.7 1713h0M438.9 1727.3h0M349.3 1711.2h0M352.9 1713.9h0M356.4 1717h0M342.1 1730.9h0M347.5 1730h0M352 1728.2h0M367.7 1732.7h0M329.6 1705.9h0M329.6 1715.7h0M294.8 1725.5h0M314.5 1790.7h0M352.5 1847.9h0M414.8 1848.2h0M426.6 1846.8h0M447.5 1844.6h0M410 1862.5h0M411.2 1867.9h0M458.2 1855.4h0M341.7 2025.8h0M348.1 2025.7h0M353.9 2025.8h0M358.9 2026.4h0M364.3 2025.3h0M369.8 2026.5h0M376 2026.1h0M381.8 2026h0M386.5 2025.8h0M393 2026h0M398.4 2025.3h0M403.5 2026.3h0M410 2025.4h0M415.3 2025.6h0M421.2 2025.3h0M426.8 2025.4h0M432 2025.7h0M437 2025.5h0M443.7 2025.4h0M448.5 2025.7h0M454.7 2025.4h0M460.1 2026.4h0M430 1846.1h0M447.3 1844.8h0M465.7 1844.3h0M472 1844.3h0M461.2 1855h0M473.8 1853.2h0M551.4 2025.5h0M593.4 2025.5h0M609.5 2025.5h0M636.2 2025h0M430.3 2026.2h0M436.3 2026.4h0M441.3 2026.6h0M447.4 2026.6h0M453.8 2026.9h0M459.7 2025.9h0M465.4 2025.9h0M471.2 2026.9h0M477.3 2026.1h0M482.7 2026.2h0M489.4 2026.8h0M495.5 2025.6h0M501.2 2025h0M507 2025.2h0M513.2 2025.7h0M518.8 2025.8h0M523.7 2025h0M530.1 2025.1h0M534.7 2025.7h0M541.3 2025.5h0M297 1867.9h0M302.5 1871.6h0M306.4 1874.9h0M304.6 1881.1h0M301.8 1883.8h0M299.3 1888.4h0M305 1886h0M309.4 1887.2h0M315.2 1889.3h0M319.9 1885.7h0M320.5 1883.7h0M314.9 1883.1h0M309.4 1880h0M306.8 1874.7h0M306.9 1869.1h0M310.2 1867.2h0M316.8 1863.9h0M322.4 1862.1h0M326.8 1861.8h0M332 1866.3h0M336.3 1869.6h0M340.5 1868.1h0M344.7 1865.3h0M351.1 1863.4h0M356.7 1865.6h0M360.1 1870h0M360 1864.9h0M364.7 1861.2h0M369.5 1857.9h0M376.5 1858.4h0M382.1 1858.4h0M385.6 1860.3h0M383.6 1854.2h0M383.8 1849h0M381 1845.8h0M374.5 1847.7h0M369.6 1849.1h0M365.8 1853.3h0M361.4 1856.8h0M355.8 1861.2h0M350.6 1862.9h0M346.6 1864.2h0M340.5 1863.6h0M337 1859.4h0M331.9 1855.5h0M326.5 1852.1h0M322.7 1848.3h0M315.9 1847.6h0M312 1844h0M306.1 1843.3h0M299.7 1843.7h0M295.5 1846.1h0M294.8 1852h0M293.8 1857.8h0M294.9 1863.6h0M264.5 1857h0M261 1853.1h0M262.4 1847.2h0M263 1841.6h0M265.3 1836.1h0M265.6 1829.7h0M269 1825.5h0M275.8 1826.3h0M282.1 1826.2h0M283 1822h0M281.8 1816.6h0M283.3 1810.5h0M285.7 1805.8h0M292.3 1805.1h0M297.1 1805.1h0M303 1805.7h0M300.3 1801.6h0M296 1799h0M291.4 1794.3h0M287.3 1790.8h0M291.2 1787.1h0M297.4 1784.5h0M302.8 1781.9h0M308.6 1780.8h0M311.6 1776.4h0M314.8 1771.9h0M314.1 1765.3h0M313.2 1760.2h0M311.1 1755.5h0M310.8 1749.6h0M316 1747.5h0M319.8 1744.5h0M325.6 1740.9h0M323.3 1739h0M317 1737.5h0M310.1 1736.4h0M306 1738.1h0M301.8 1741.7h0M297 1745.2h0M292.7 1748.7h0M287.4 1750.5h0M280.9 1750.1h0M275.6 1749.2h0M270.4 1746h0M266 1742.2h0M263.5 1737h0M259.2 1732.3h0M255.9 1733.8h0M255.4 1739.8h0M254.1 1744.3h0M251.9 1749.6h0M248.9 1755.7h0M246.4 1760.7h0M245.4 1765.8h0M249.8 1769h0M256.5 1770h0M261.4 1772.1h0M264.8 1776.5h0M269.4 1780.4h0M271.5 1785.2h0M266.1 1789.5h0M264.9 1794.4h0M264.7 1800.6h0M263.6 1806h0M267.4 1810.4h0M270.5 1814.5h0M269.3 1820.9h0M265.7 1823.8h0M259.2 1826.3h0M254 1828.6h0M250.5 1832h0M245.6 1836.2h0M243.5 1841.3h0M244.7 1847.5h0M247.3 1851.6h0M252 1855.8h0M256.8 1856.9h0M263.1 1856.6h0M298.5 1759.5h0M303.6 1762.9h0M306.5 1766h0M305.6 1772.8h0M301.6 1775.3h0M296.3 1778.9h0M291.2 1776.2h0M289.2 1770.7h0M288 1766.5h0M292.8 1763.4h0M362.5 1875.8h0M393 1863.4h0M393.1 1862.4h0" fill="none" stroke="#981f9c" stroke-width="10.1" stroke-linecap="round"/>
<path d="M235.3,1835.8 236,1833.1 240.9,1825.9 243.3,1825 251.7,1825 257,1822.3 263.4,1815.9 271.3,1811.6 275.4,1807.5 281.9,1803.3 286.5,1802.5 293.7,1805.9 301.8,1807.2 302.4,1806.6 298.4,1803.6 297.3,1802 296.9,1799.7 297.6,1795.1 296.5,1792.9 292.6,1793.6 283.2,1800.8 270.6,1802.9 268.6,1802.5 266.7,1801 262.4,1792.5 262.2,1789.6 263.3,1787.4 270.5,1783.4 274.2,1776.6 276.2,1775.2 281.5,1773.9 282.9,1771.1 281.5,1768.3 276.2,1766.9 274.2,1765.6 269.3,1755.8 270,1752.4 279.6,1739.5 278.9,1736.1 275.5,1735.4 269.8,1739.7 261.4,1743.8 259.5,1744 252.3,1742.5 249.5,1744.6 250.8,1751.8 248.7,1763.9 247.3,1765.9 239.4,1771.8 235.9,1772.5 227.4,1769.2 220.4,1770.6 215.1,1772.7 215.1,1780.8 218.6,1790.2 216.9,1801.4 218.4,1810.1 223.3,1816.7 226.1,1825 228.6,1825.4 230.3,1826.6ZM209.2,1753.6 214.4,1756.7 227.7,1754.1 225.4,1752.3 218.9,1749.7Z" fill="#0a62b0" fill-rule="evenodd" stroke="#0a62b0" stroke-width="1.5" stroke-linejoin="round"/>
<path d="M297 1656.2h0M328.2 1654.5h0M269.3 1669.8h0M303.8 1666.6h0M279.6 1688h0M281.4 1699.6h0M284.1 1701.4h0M321.6 1693.4h0M329.6 1692.5h0M345.7 1699.3h0M316.2 1704.6h0M240.4 1709.5h0M238 1720.2h0M213.9 1717h0M262.3 1717.5h0M262.7 1722.9h0M286.8 1718.4h0M316.6 1720.2h0M330.5 1708.6h0M307.3 1727.3h0M293.6 1731.8h0M321.6 1733h0M222.5 1733.6h0M222.5 1740.7h0M188 1744.3h0M236.2 1742.5h0M375.2 1737.7h0M402.5 1741.1h0M345.7 1753.2h0M367.7 1763.4h0M393.9 1761.8h0M350.7 1773.8h0M366.2 1783.9h0M333.2 1798.2h0M343.9 1794.6h0M194.8 1780.9h0M198.4 1783.6h0M193 1798.2h0M314.5 1746.1h0M306.4 1761.2h0M293 1753.2h0M193 1800h0M333.2 1800h0M212.7 1810.7h0M258.8 1850h0M248.8 1870.9h0M274.3 1943.8h0M290 1983h0M331.4 1993.2h0M207.3 2016.1h0M274.3 1943.8h0M290 1983h0M331.4 1993.2h0M325.2 2012.1h0M352 2012.5h0M342.1 2016.1h0M267.1 2014.3h0M276.1 2008.9h0M272.5 2021.4h0M276.1 2025h0M295.7 2021.4h0M305.5 2017.9h0M310 2023.2h0M329.6 2023.2h0M290.4 2025h0M320.7 2025h0M267.6 1813.8h0M273.2 1810.7h0M277.1 1807.7h0M282.7 1805.1h0M287.6 1804.9h0M292.7 1807.3h0M299.3 1807h0M304.1 1805.9h0M298.8 1802.7h0M298.4 1797.3h0M298 1792.2h0M291.2 1792.2h0M287.5 1797h0M282.5 1799.7h0M275.8 1801.6h0M271.6 1801.9h0M267.2 1798.5h0M264.1 1794.3h0M264 1787.7h0M269.4 1784.9h0M273.2 1781.8h0M275.6 1775.6h0M281.6 1774.5h0M283.1 1769.3h0M279.2 1765.9h0M274 1764.7h0M272.5 1759.3h0M269.7 1754.1h0M274.1 1748.2h0M276.8 1743.6h0M281.3 1739.4h0M277.2 1735.2h0M272.8 1736.9h0M267.9 1739.7h0M263.5 1741.8h0M257.4 1742h0M250.8 1742.3h0M248.9 1746.6h0M249.4 1752.1h0M249.3 1757.6h0M247.2 1762.5h0M244.2 1767.3h0M239.3 1770.4h0M233.8 1769.9h0M229 1768h0M221.8 1769.6h0M217.5 1770.1h0M213.4 1774.1h0M213.3 1780h0M216.1 1786h0M217.2 1792.3h0M217.1 1797.7h0M216.7 1802.3h0M216.2 1808.6h0M219.5 1813.3h0M223.8 1819.2h0M224.2 1824.7h0M228.6 1827.5h0M231.4 1832.4h0M233.9 1837.2h0M237.2 1842.5h0M238.3 1840h0M236.3 1835.6h0M239.5 1829.6h0M244 1825.7h0M249 1826.6h0M254 1825.2h0M260.1 1821.7h0M263.1 1818.2h0M212 1756.1h0M219.2 1756.7h0M225.1 1756.5h0M228.6 1754.2h0M224 1750.4h0M217.8 1748.5h0M211.9 1750.6h0M208.1 1753h0" fill="none" stroke="#0a62b0" stroke-width="10.1" stroke-linecap="round"/>
<path d="M374.8,2023.2 387.3,2020.1 391.5,2019.5 379.3,2021ZM197.9,1836.1 202,1840.5 204,1849.7 209.2,1856.8 210.9,1863.1 214.7,1865.9 220,1864.6 222.1,1864.8 231.9,1868.7 235.8,1871.5 236.7,1870.2 235.6,1864.3 225.1,1846.9 221.9,1838.8 216.5,1834.5 210.4,1837.2 208.6,1837 201.3,1834.1Z" fill="#fa8b0c" fill-rule="evenodd" stroke="#fa8b0c" stroke-width="1.5" stroke-linejoin="round"/>
<path d="M205.5 1776.4h0M206.4 1783.6h0M208.2 1790.7h0M206.4 1797.9h0M210 1803.2h0M214.5 1803.2h0M202.9 1811.2h0M211.8 1817.5h0M220.7 1815.7h0M233.2 1820.2h0M200.2 1829.1h0M217.1 1828.2h0M209.1 1802.7h0M213.6 1803.6h0M202.9 1811.6h0M212.7 1817.9h0M220.7 1815.2h0M233.2 1820.5h0M207 1883h0M247 1886.2h0M284.6 1858.4h0M220.7 1933h0M227.9 1934.8h0M277.9 1937.5h0M250.2 1963.9h0M288.2 1962.5h0M244.8 1988.4h0M253.8 1982.1h0M262.7 1984.8h0M252.9 1991.1h0M233.2 1996.4h0M254.6 1996.4h0M220.7 1933h0M227.9 1934.8h0M277.9 1937.5h0M250.2 1963.9h0M288.2 1962.5h0M252.9 1982.1h0M261.8 1984.8h0M245.7 1988.4h0M254.6 1991.1h0M249.3 1997.3h0M258.2 1998.2h0M233.2 1997.3h0M235 2002.7h0M233.2 2008h0M215.4 2007.1h0M256.4 2008h0M267.1 2010.7h0M283.2 2003.6h0M293 2006.2h0M281.4 2012.5h0M279.6 2017.9h0M283.2 2023.2h0M317.1 2017h0M343.9 2002.3h0M433.2 2010.7h0M431.4 2017.9h0M445.7 2018.8h0M458.2 2021.4h0M433.6 2010.4h0M433.6 2019.3h0M446.1 2020.2h0M458.6 2022h0M465.7 2021.1h0M474.6 2020.2h0M483.6 2018.4h0M485.4 2024.6h0M533.6 2016.6h0M532.7 2022.9h0M599.6 2019.3h0M373.9 2023.8h0M379.4 2023.5h0M385.3 2021.6h0M390.9 2021.4h0M395.6 2019.6h0M388.8 2018.6h0M383.6 2019.1h0M378.9 2019.7h0M374.2 2023.4h0M200.4 1840.5h0M201.6 1847h0M204.6 1852h0M207.6 1856.2h0M210.4 1862.3h0M212.7 1865.3h0M218.9 1866.2h0M224.8 1867.1h0M230.5 1869.8h0M234.8 1872.8h0M238.4 1869.1h0M235.6 1862.8h0M232.3 1857.7h0M230.8 1852.9h0M226.9 1848.5h0M223.7 1843.4h0M222.2 1838.1h0M217.7 1833.2h0M212.5 1836.1h0M206 1834.5h0M201.2 1833.5h0M197.7 1836.2h0M427.4 2023.2h0M425.2 2026.4h0M430.1 2025.2h0M432.6 2022.1h0" fill="none" stroke="#fa8b0c" stroke-width="10.1" stroke-linecap="round"/>
<path d="M323.8,1740.7 323.7,1740.1 311.5,1739.1 317.6,1742.5ZM310.8,1776.8 301,1777.7 295.3,1781.3 296.6,1781.9 306.1,1780.6ZM269.9,1770.1 285,1755 284,1754 274.5,1758.8 270.3,1767.2ZM260.4,1854.8 259.4,1851.3 261.3,1841.9 263.2,1834.1 266.7,1824.6 256.8,1830.8 249.7,1837.1 246.7,1842.6 248.5,1848.4 252.8,1853.4ZM270.3,1822.6 281.1,1822.6 281.7,1822.1 280,1817.5 279.9,1810.7 277.2,1807.9 272.2,1811.3 272.1,1819.8ZM249.6,1769.8 252.8,1768.7 253.2,1768 253,1767.9Z" fill="#981f9c" fill-rule="evenodd" stroke="#981f9c" stroke-width="1.5" stroke-linejoin="round"/>
<path d="M321.5 1738.1h0M315.5 1738h0M310.4 1737.7h0M314.2 1741.9h0M318.6 1743.9h0M324 1741.4h0M309.3 1775.4h0M302.7 1775.9h0M297.3 1779h0M294.2 1781.7h0M300.1 1782.5h0M304.3 1781.8h0M310.7 1779.3h0M269.6 1772.3h0M272.3 1767.7h0M277.3 1764.4h0M280.7 1760h0M284.1 1757.5h0M284.8 1753.2h0M279 1755.5h0M273.1 1757.4h0M271.7 1762.1h0M269.9 1768.3h0M261.5 1854.8h0M260.5 1847.7h0M262.4 1843.6h0M263.1 1836.7h0M265.1 1830.8h0M266.7 1827h0M271.8 1823.5h0M277.1 1823.5h0M282.2 1823h0M280.5 1817.2h0M280.4 1812h0M278.3 1805.9h0M273.1 1810.1h0M270.4 1814.2h0M270.3 1821h0M266.1 1824.1h0M260.8 1827h0M257 1830.3h0M251.6 1834h0M247.3 1837.5h0M246.3 1842.9h0M247.5 1849.2h0M250.4 1852.3h0M256.1 1855.1h0M262.8 1856.3h0M255.3 1738.8h0M258.5 1735.5h0M256 1735.5h0M253.6 1767.1h0M247.9 1770.4h0M250.9 1770.7h0" fill="none" stroke="#981f9c" stroke-width="10.1" stroke-linecap="round"/>
<path d="M306.8 1851.8h0M258.8 1850h0" fill="none" stroke="#0a62b0" stroke-width="10.1" stroke-linecap="round"/>
</g>
</g>
<g id="panel-h">
<path d="M1107.6 1644.2H1796.7M1107.6 2024.7H1795.2" fill="none" stroke="#000" stroke-width="2.6"/>
<path d="M1120.6 1644.2V2036.7M1795.2 1644.2V2036.7" fill="none" stroke="#000" stroke-width="3.0"/>
<path d="M1107.6 1771H1120.6M1107.6 1897.9H1120.6" fill="none" stroke="#000" stroke-width="2.5"/>
<path d="M1345.5 2024.7V2036.7M1570.3 2024.7V2036.7M1233 2024.7V2033.3M1457.9 2024.7V2033.3M1682.8 2024.7V2033.3" fill="none" stroke="#000" stroke-width="2.7"/>
<text x="1083.6" y="1657.9" font-size="48.5" text-anchor="end">1.2</text>
<text x="1083.6" y="1784.7" font-size="48.5" text-anchor="end">0.8</text>
<text x="1083.6" y="1911.6" font-size="48.5" text-anchor="end">0.4</text>
<text x="1083.6" y="2038.4" font-size="48.5" text-anchor="end">0</text>
<text x="1120.6" y="2088.8" font-size="48.5" text-anchor="middle">0</text>
<text x="1345.5" y="2088.8" font-size="48.5" text-anchor="middle">10</text>
<text x="1570.3" y="2088.8" font-size="48.5" text-anchor="middle">20</text>
<text x="1795.2" y="2088.8" font-size="48.5" text-anchor="middle">30</text>
<text x="1458.4" y="2136.7" font-size="48.5" text-anchor="middle">Particulate carbon (<tspan font-style="italic">µ</tspan>M)</text>
<text x="1143.1" y="1695.5" font-size="41" font-weight="bold">h</text>
<clipPath id="clip-h"><rect x="1100.6" y="1624.2" width="714.6" height="420.5"/></clipPath>
<g clip-path="url(#clip-h)">
<path d="M1215.5,2020.2 1257.2,2020.2 1257.2,2020.2 1257,2019.5 1234.4,2018Z" fill="#981f9c" fill-rule="evenodd" stroke="#981f9c" stroke-width="1.5" stroke-linejoin="round"/>
<path d="M1265.5 1774.1h0M1272.7 1775h0M1267.3 1780.4h0M1239.6 1787.5h0M1238.8 1792h0M1288.8 1776.8h0M1294.1 1781.2h0M1298.6 1784.8h0M1305.7 1783h0M1312 1783.9h0M1322.7 1789.3h0M1308.4 1796.4h0M1303.9 1803.6h0M1305.7 1808.9h0M1314.6 1802.7h0M1320.9 1800.9h0M1320 1809.8h0M1333.4 1808.4h0M1292.9 1810.2h0M1348.9 1797.9h0M1315.9 1822.3h0M1239.6 1803.6h0M1239.6 1809.8h0M1254.8 1815.2h0M1255.7 1821.4h0M1239.6 1823.2h0M1245 1826.8h0M1237.9 1832.1h0M1246.8 1833.9h0M1253.9 1830.4h0M1261.1 1833h0M1252.1 1839.3h0M1259.3 1838.4h0M1268.2 1834.8h0M1277.1 1836.6h0M1280.7 1841.1h0M1249.5 1848.2h0M1310.2 1837.9h0M1322.7 1837.9h0M1352.1 1844.6h0M1363.8 1851.8h0M1384.3 1853.6h0M1396.8 1851.8h0M1403.9 1852.7h0M1409.3 1848.2h0M1407.5 1842.9h0M1365.5 1863.4h0M1380.7 1866.1h0M1395 1867h0M1399.5 1867.9h0M1268.2 1866.1h0M1265.5 1873.2h0M1262 1877.7h0M1248.2 1875.9h0M1275.4 1878.6h0M1277.1 1885.7h0M1282.5 1892h0M1285.2 1893.8h0M1305.7 1884.5h0M1250.4 1892.9h0M1263.8 1892.9h0M1355.7 1880.4h0M1373.6 1882.1h0M1382.5 1875h0M1389.6 1880.4h0M1393.2 1885.7h0M1359.3 1889.3h0M1368.2 1889.3h0M1345 1891.1h0M1337.9 1896.4h0M1348.6 1896.4h0M1386.1 1891.1h0M1396.8 1892.9h0M1362.9 1896.4h0M1387.9 1898.2h0M1248.2 1876.2h0M1261.1 1877.1h0M1270 1871.8h0M1275.4 1881.6h0M1280.7 1889.6h0M1285.2 1892.3h0M1305.7 1884.6h0M1250.4 1893.2h0M1263.8 1893.2h0M1257.5 1899.5h0M1250.4 1905.7h0M1245 1912h0M1266.4 1914.6h0M1271.8 1921.8h0M1270 1928.9h0M1284.3 1919.1h0M1291.4 1922.7h0M1307.1 1912.5h0M1243.2 1927.1h0M1250.4 1925.4h0M1253.9 1932.5h0M1246.8 1937.9h0M1245 1945h0M1251.2 1950.4h0M1258.4 1942.3h0M1262.9 1948.6h0M1296.8 1940.5h0M1291.4 1948.6h0M1298.6 1953.9h0M1287.9 1953.9h0M1303.9 1957.5h0M1295 1962.9h0M1316.4 1962.9h0M1318.2 1973.6h0M1341.4 1960.7h0M1337.9 1937.9h0M1334.3 1896.8h0M1343.2 1893.2h0M1348.6 1896.8h0M1341.4 1902.1h0M1355.7 1880.7h0M1361.1 1887.9h0M1368.2 1893.2h0M1373.6 1884.3h0M1382.5 1875.4h0M1389.6 1880.7h0M1395 1887.9h0M1386.1 1891.4h0M1396.8 1896.8h0M1376.2 1908.4h0M1343.2 1913.8h0M1339.6 1921.8h0M1350.4 1921.8h0M1332.5 1928.9h0M1353.9 1929.8h0M1376.2 1936.1h0M1369.1 1945h0M1378.9 1950.4h0M1387.9 1953.9h0M1395 1946.8h0M1364.6 1957.5h0M1370 1962.9h0M1382.5 1961.1h0M1373.6 1970h0M1366.4 1973.6h0M1358.4 1977.1h0M1393.2 1978h0M1400.4 1968.2h0M1405.7 1959.3h0M1412.9 1966.4h0M1409.3 1948.6h0M1398.6 1934.3h0M1395 1916.4h0M1400.4 1911.1h0M1414.6 1918.2h0M1414.6 1928.9h0M1405.7 1973.6h0M1407.5 1842.9h0M1409.8 1848.2h0M1403.6 1853.6h0M1400.9 1867.9h0M1443.8 1889.3h0M1452.7 1894.6h0M1442 1903.6h0M1450.9 1916.1h0M1401.8 1910.7h0M1412.5 1917h0M1419.6 1919.3h0M1413.4 1925h0M1416.1 1932.1h0M1438.4 1929.5h0M1421.4 1940.2h0M1410.7 1942.9h0M1405.4 1948.2h0M1433.9 1942.9h0M1439.3 1943.8h0M1457.7 1942.9h0M1457.7 1948.2h0M1405.4 1957.1h0M1408.9 1964.3h0M1403.6 1969.6h0M1407.1 1974.1h0M1421.4 1972.9h0M1438.4 1972.9h0M1443.8 1966.1h0M1459.8 1964.3h0M1468.8 1962.5h0M1464.3 1967h0M1483.6 1961.1h0M1524.1 1967.9h0M1527.7 1968.8h0M1538.4 1969.3h0M1562.9 1966.1h0M1568.4 1950.4h0M1197 2021.5h0M1203.8 2021.5h0M1209.2 2020.9h0M1214.4 2020.6h0M1220.4 2021.9h0M1225.7 2021.3h0M1231.9 2021.2h0M1238.6 2021.7h0M1245 2020.9h0M1250.9 2021.2h0M1256.4 2022h0M1257 2018h0M1250.6 2017.3h0M1245.5 2016.9h0M1238.1 2016.9h0M1233.9 2016.5h0M1226.7 2018.2h0M1221.1 2019h0M1215 2018.6h0M1209.3 2019.8h0M1203.6 2020.4h0M1198.3 2020.5h0M1192.4 2020.7h0M1180.6 2020.6h0M1182.8 2023.9h0M1184.7 2020h0" fill="none" stroke="#981f9c" stroke-width="10.3" stroke-linecap="round"/>
<path d="M1249.2,1984.7 1248.4,1991.7 1248.4,2000.8 1250.5,1994.5ZM1176.7,1998.9 1177.5,2001.3 1191.8,2004.1 1216.4,2002.6 1218.7,1997 1221.8,1984.6 1220.3,1980.6 1206.5,1988.8 1189.9,1996.1Z" fill="#0a62b0" fill-rule="evenodd" stroke="#0a62b0" stroke-width="1.5" stroke-linejoin="round"/>
<path d="M1201.8 1815.5h0M1212.9 1833h0M1189.6 1841.1h0M1284.6 1846.4h0M1227.1 1859.8h0M1224.5 1867h0M1236.1 1868.8h0M1273.6 1867h0M1173.6 1886.6h0M1193.2 1886.6h0M1207.5 1889.3h0M1204.8 1893.8h0M1224.5 1883h0M1234.3 1883.9h0M1234.3 1889.3h0M1155.7 1898.2h0M1178.9 1899.1h0M1225.4 1894.6h0M1239.6 1898.2h0M1212.9 1899.1h0M1155.2 1899.8h0M1173.6 1887h0M1193.2 1886.1h0M1206.6 1889.6h0M1224.5 1882.5h0M1234.3 1885.2h0M1178.9 1902.1h0M1224.5 1896.8h0M1239.6 1899.5h0M1212.9 1902.1h0M1203.9 1907.5h0M1186.1 1912.9h0M1214.6 1918.2h0M1236.1 1917.3h0M1205.7 1928.9h0M1216.4 1931.6h0M1225.4 1925.4h0M1177.1 1934.3h0M1195 1933.4h0M1200.4 1946.8h0M1223.6 1946.8h0M1160.2 1961.1h0M1183.4 1966.4h0M1266.4 1944.1h0M1287 1943.2h0M1292.3 1918.2h0M1273.6 1958.4h0M1282.5 1959.3h0M1314.6 1957.5h0M1261.1 1962.9h0M1273.6 1978.9h0M1268.2 1989.6h0M1307.5 1989.6h0M1309.3 2003.9h0M1286.1 1996.8h0M1292.3 1995h0M1340.5 2001.2h0M1136.1 2005.7h0M1333.4 1968.2h0M1139.6 2016.4h0M1213.7 1976.3h0M1166.8 1984.3h0M1202.8 2002.2h0M1222.7 2009h0M1217.8 1978h0M1245.4 1972h0M1191.4 2001.6h0M1178.8 1988.4h0M1223.8 1976.7h0M1227.9 1979.8h0M1191.9 1988.7h0M1239.1 1995h0M1185 1988h0M1212.7 2004.9h0M1232.7 1971.9h0M1202.1 1998.3h0M1176 1983.2h0M1164.9 1993.3h0M1236.2 1987.9h0M1247.1 1973.4h0M1229.4 1989.1h0M1218 1981.4h0M1243.6 2008.9h0M1207.6 1993.1h0M1167 1995.2h0M1241.8 1971.7h0M1199 1993.3h0M1166.9 1998.9h0M1199.5 2004.7h0M1169 1981h0M1215 2005.4h0M1241.5 2004.3h0M1196.3 2005.5h0M1218.9 1970.5h0M1197.3 1987.6h0M1254.7 1994.6h0M1211.7 1990.5h0M1249.4 1999.6h0M1247 2000.6h0M1171.2 1991.4h0M1163.6 2004.9h0M1221.4 1964.1h0M1206.8 1982.9h0M1242.5 1964.8h0M1245.9 1994.9h0M1177.5 1999.1h0M1213.4 1999.5h0M1244.8 2001.1h0M1241.4 1997.3h0M1186.5 1994.7h0M1255 1980.9h0M1254.9 1976.2h0M1222.4 2006.4h0M1243.6 1982.7h0M1225.2 2000.7h0M1169.4 1992.9h0M1250.4 1999.7h0M1234.7 1982.6h0M1178.6 2000.1h0M1193.7 2000.8h0M1200.5 2009h0M1232.3 1965.3h0M1249.9 2001.1h0M1175.4 2002.2h0M1257.4 1992.7h0M1195.5 1986.6h0M1256.4 1992.3h0M1212.8 2008.2h0M1203.7 2004.7h0M1242.2 1967.6h0M1184.7 1988.7h0M1173.9 2006.9h0M1218.4 2006.6h0M1202.4 2007.3h0M1210.3 1985.6h0M1178 1982.3h0M1232.3 1987h0M1215.6 1999.8h0M1171.5 1987.2h0M1236.9 1984.3h0M1216.2 1998.5h0M1250.7 1980.6h0M1221.2 1984.2h0M1211.4 1994.7h0M1205.5 1985.7h0M1208 2008.7h0M1229.7 2005h0M1216 2008.8h0M1243.6 1963.4h0M1173 1980.6h0M1168.3 1993.4h0M1238.1 2006.2h0M1176.2 1996h0M1225.9 1963.8h0M1247.8 2010.1h0M1182.6 2009.3h0M1215.5 1980.5h0M1222.3 1984.5h0M1165 1999.5h0M1202.5 2007h0M1241.5 1970.3h0M1175.7 2007.4h0M1217.1 1995.1h0M1228.7 1979.6h0M1223.4 2000.8h0M1169.3 2003.9h0M1167.6 2004.2h0M1215.4 2007.8h0M1235.7 1972h0M1233.1 1986.7h0M1241.5 1980h0M1209.7 2002.7h0M1199.7 1984.2h0M1194.7 2002.5h0M1230.5 1991.5h0M1168 1997.4h0M1169.4 2003h0M1246.6 1993.4h0M1186.9 2009.8h0M1256.6 1986.5h0M1185.1 2010h0M1207.7 1984h0M1218.6 1985.5h0M1234.8 1992.7h0M1231.4 2005.2h0M1232.2 1991.9h0M1165.4 2002.7h0M1248.7 1991h0M1233.1 2001.4h0M1174.8 1985.2h0M1210.6 2002.7h0M1240.1 2002.2h0M1218.4 2005.9h0M1228.1 1994.7h0M1171.4 2002.7h0M1248 1983.5h0M1247.9 1990.4h0M1247.5 1995.5h0M1246.6 2002.2h0M1250.1 1999h0M1251.6 1992.3h0M1250.7 1987.5h0M1250.1 1980.6h0M1176 2002.8h0M1182.5 2004h0M1188.7 2004.7h0M1195.1 2005.7h0M1201.3 2003.9h0M1206.2 2004.1h0M1212.6 2004.2h0M1216.9 2002.6h0M1220.8 1996.6h0M1220.7 1990.9h0M1222.7 1984.8h0M1219.8 1979.1h0M1217 1981h0M1211.3 1984.8h0M1205.3 1987.9h0M1200.7 1990.1h0M1193.9 1992.1h0M1188.6 1994.6h0M1182.3 1996.5h0M1177.3 1997.6h0M1247.1 1970.8h0M1243.5 1967h0M1239.6 1969.2h0M1244 1973.5h0" fill="none" stroke="#0a62b0" stroke-width="10.3" stroke-linecap="round"/>
<path d="M1146.6,2014.8 1146.6,2017.9 1148.8,2020.1 1172,2018.5 1174.1,2017.2 1165.2,2016.1 1152.3,2012.9Z" fill="#fa8b0c" fill-rule="evenodd" stroke="#fa8b0c" stroke-width="1.5" stroke-linejoin="round"/>
<path d="M1286.4 1723.6h0M1162 1796.4h0M1184.3 1799.6h0M1207.5 1830.7h0M1195.9 1838.4h0M1193.2 1846.4h0M1200.4 1853.6h0M1198.6 1858.9h0M1177.1 1858.4h0M1182.5 1872.3h0M1181.6 1888.4h0M1191.4 1896.4h0M1371.2 1868.8h0M1224.5 1898.2h0M1182.5 1872.7h0M1181.6 1887.9h0M1191.4 1896.8h0M1195 1903h0M1224.5 1902.1h0M1227.1 1911.1h0M1230.7 1908.4h0M1225.4 1918.2h0M1202.1 1914.6h0M1198.6 1920h0M1178.9 1916.4h0M1173.6 1920.9h0M1154.8 1926.2h0M1161.1 1932.5h0M1162 1940.5h0M1170 1945h0M1168.2 1953.9h0M1177.1 1953.9h0M1149.5 1958.8h0M1212 1945h0M1224.5 1939.6h0M1237 1932.5h0M1261.1 1905.7h0M1329.8 1933.9h0M1317.3 1947.7h0M1311.1 1952.1h0M1332.5 1970h0M1311.1 1978h0M1324.5 1982.9h0M1338.8 1995h0M1362.9 1987.9h0M1371.8 1992.3h0M1369.1 2003.9h0M1381.6 2003h0M1396.8 2009.3h0M1403.9 1999.5h0M1409.3 1993.2h0M1418.2 2005.7h0M1405.7 1933.4h0M1418.2 1955.7h0M1371.8 1870.9h0M1229.8 1978h0M1199.5 2003h0M1170 1984.3h0M1177.1 1986.1h0M1182.5 1982.5h0M1177.1 1993.2h0M1405.9 1933h0M1419.6 1955.4h0M1466.1 1972.9h0M1408.9 1993.2h0M1404.5 2000.4h0M1400 2007.5h0M1418.8 2005.7h0M1466.1 2002.1h0M1530.4 2005.7h0M1145.8 2016.7h0M1148 2020.7h0M1153 2020.4h0M1159 2020.3h0M1165.6 2020.2h0M1170.5 2019.4h0M1177 2017.1h0M1172.2 2016.7h0M1167.1 2014.7h0M1161 2014.2h0M1155.7 2012.4h0M1150.2 2012.6h0" fill="none" stroke="#fa8b0c" stroke-width="10.3" stroke-linecap="round"/>
<path d="M1234.4,2018.4 1225.2,2019.8 1256.1,2019.8Z" fill="#981f9c" fill-rule="evenodd" stroke="#981f9c" stroke-width="1.5" stroke-linejoin="round"/>
<path d="M1236.1 1980.7h0M1243.2 1978h0M1226.5 2021.6h0M1232.9 2021.8h0M1237.1 2020.8h0M1244.3 2020.9h0M1250.1 2020.9h0M1255.9 2020.5h0M1256 2019h0M1249.2 2019.2h0M1244.1 2018.6h0M1237.1 2017.3h0M1232.3 2018.2h0M1225.6 2019h0" fill="none" stroke="#981f9c" stroke-width="10.3" stroke-linecap="round"/>
</g>
</g>
<g id="panel-i">
<path d="M162.9 2188.9H876.4M162.9 2569.9H874.9" fill="none" stroke="#000" stroke-width="2.9"/>
<path d="M175.9 2188.9V2581.9M874.9 2188.9V2581.9" fill="none" stroke="#000" stroke-width="3.0"/>
<path d="M162.9 2315.9H175.9M162.9 2442.9H175.9" fill="none" stroke="#000" stroke-width="2.5"/>
<path d="M408.9 2569.9V2581.9M641.9 2569.9V2581.9M292.4 2569.9V2578.5M525.4 2569.9V2578.5M758.4 2569.9V2578.5" fill="none" stroke="#000" stroke-width="2.7"/>
<text x="138.9" y="2202.6" font-size="48.5" text-anchor="end">3</text>
<text x="138.9" y="2329.6" font-size="48.5" text-anchor="end">2</text>
<text x="138.9" y="2456.6" font-size="48.5" text-anchor="end">1</text>
<text x="138.9" y="2583.6" font-size="48.5" text-anchor="end">0</text>
<text x="175.9" y="2632.7" font-size="48.5" text-anchor="middle">0</text>
<text x="408.9" y="2632.7" font-size="48.5" text-anchor="middle">50</text>
<text x="641.9" y="2632.7" font-size="48.5" text-anchor="middle">100</text>
<text x="874.9" y="2632.7" font-size="48.5" text-anchor="middle">150</text>
<text x="540.7" y="2693.5" font-size="48.4" text-anchor="middle">Mixed layer depth (m)</text>
<text x="198.4" y="2237" font-size="41" font-weight="bold">i</text>
<clipPath id="clip-i"><rect x="155.9" y="2168.9" width="739" height="421"/></clipPath>
<g clip-path="url(#clip-i)">
<path d="M364.4 2317h0M438.6 2332.9h0M338.3 2365.4h0M322.9 2414.3h0M407.3 2438.7h0M435.6 2434.9h0M397 2458.9h0M438.6 2465.7h0M488.7 2428h0M547.9 2420.7h0M567.1 2374.4h0M570.1 2391.6h0M644.3 2419.4h0M670 2434.9h0M697.9 2395h0M715.9 2376.1h0M610 2477.7h0M592.9 2536.9h0M492.6 2552.3h0M434.3 2564.3h0" fill="none" stroke="#981f9c" stroke-width="13.4" stroke-linecap="round"/>
<path d="M236.8,2298.6 237.8,2302.3 236.9,2309.5 237.8,2327.5 236.9,2345.2 236.9,2365.1 241.3,2376.4 239.8,2386.8 241.6,2390.3 242.8,2391.1 244.3,2382.5 245.5,2380.1 251.2,2375.9 255.5,2370.1 264.4,2365.5 266.9,2365.1 270,2365.9 276.4,2370.2 278.1,2372.4 279.7,2371.2 282.2,2370.5 292.6,2370.4 290.9,2367 290.5,2364.3 285.8,2367.1 283.4,2367.8 272.6,2365.9 269.1,2363.9 267.7,2361.7 267.2,2359.7 269.4,2349.8 274.4,2340.4 276.6,2338.9 279.9,2338.3 282.4,2339.1 285.1,2340.8 287.4,2339.7 290.4,2335.6 290.4,2333.5 284.1,2326.7 282,2317.9 272.8,2308.7 271.3,2306.5 270.8,2304 271.2,2301.5 272.6,2299.4 274.2,2298.1 271.4,2297.6 262.5,2294.1 259.4,2291.5 255.4,2283.7 254.7,2281.1 255.1,2278.4 257.6,2274.1 250.7,2270.3 248.8,2268.5 247.7,2266 247.6,2264 249.7,2256.7 247.8,2253.7 241.8,2250.7 241.3,2250.9 241.3,2259.3 240.8,2261.8 239.8,2263.5 231.8,2272.1 232,2273.1 239.2,2277.6 241.2,2281 241.3,2283.6 239.3,2295 238.5,2296.8ZM299,2300.6 295.1,2301.6 299.7,2303.5 299.9,2301.4Z" fill="#0a62b0" fill-rule="evenodd" stroke="#0a62b0" stroke-width="1.5" stroke-linejoin="round"/>
<path d="M225.6 2200h0M333.6 2344.4h0M338.7 2452h0M338.7 2457.1h0M371.3 2453.7h0M330.1 2487.1h0M440.7 2566h0M451.4 2563h0M231.1 2228.6h0M225.7 2239.6h0M253.9 2235.7h0M222.1 2330.7h0M333.8 2344.1h0M226.6 2295.9h0M312.9 2367.7h0M320.1 2364h0M326.7 2360.7h0M333.4 2358.6h0M340.2 2356.4h0M346.7 2354.4h0M352.6 2358.8h0M359.6 2362.1h0M366.2 2363.3h0M236.2 2558h0M300.9 2555.4h0M300 2562.9h0M324.6 2556.2h0M235.7 2299.5h0M234.8 2306.1h0M236.5 2313.2h0M237.2 2321.9h0M235.7 2330h0M235.5 2335.7h0M235.6 2344.9h0M235 2352.5h0M236.1 2359.3h0M236.8 2368.5h0M240 2373.3h0M238.5 2381.3h0M240.1 2389.7h0M244.7 2392.1h0M244.4 2382.6h0M250.2 2378.9h0M256.4 2373.1h0M261.4 2368.2h0M268.3 2367.6h0M275.9 2370.4h0M277.5 2375.7h0M283.7 2371.6h0M291.1 2372.5h0M293.8 2368.5h0M291.5 2361.8h0M286.2 2365.7h0M279.2 2366h0M271 2363.4h0M268.3 2356.4h0M269.9 2350.9h0M273.3 2342.6h0M281.6 2339.6h0M287.5 2340.7h0M291 2336.2h0M288.1 2329.3h0M284.9 2323.1h0M281.1 2315.6h0M276 2310.3h0M273.2 2304.8h0M276.7 2299.3h0M282.9 2296.4h0M289.9 2298.7h0M297.2 2303.2h0M300.4 2301.4h0M294.6 2299.8h0M288.1 2297.9h0M280.9 2295.8h0M274.6 2295.8h0M266.2 2295.2h0M260.4 2291.7h0M257.7 2284.8h0M256.6 2276.7h0M255.1 2270.1h0M248.4 2267.8h0M249.7 2260.1h0M248.8 2252h0M242.2 2249.6h0M241.1 2254.4h0M239.6 2261.7h0M232.2 2268.9h0M231.9 2275h0M237 2277.6h0M238.8 2285.7h0M238.9 2293.1h0M276.4 2380.3h0M276.7 2387.9h0M278.2 2381.4h0M300.4 2356.4h0M226.1 2294.6h0M222.7 2295.3h0" fill="none" stroke="#0a62b0" stroke-width="13.4" stroke-linecap="round"/>
<path d="M236.3 2429.7h0M231.6 2331.1h0M231.4 2376.2h0M291.8 2372.7h0M311.1 2373.9h0M311.1 2391.8h0M271.2 2407.5h0M268.6 2410.2h0M253.6 2562.9h0M272.7 2537h0M282.5 2547h0M297.3 2550.9h0M317 2564.3h0M321.4 2561.6h0M325.4 2558h0M361.1 2564.6h0" fill="none" stroke="#fa8b0c" stroke-width="13.4" stroke-linecap="round"/>
</g>
</g>
<g id="panel-j">
<path d="M1107.6 2188.9H1795.1M1107.6 2569.9H1793.6" fill="none" stroke="#000" stroke-width="2.9"/>
<path d="M1120.6 2188.9V2584.9M1793.6 2188.9V2584.9" fill="none" stroke="#000" stroke-width="3.0"/>
<path d="M1107.6 2315.9H1120.6M1107.6 2442.9H1120.6" fill="none" stroke="#000" stroke-width="2.5"/>
<path d="M1344.9 2569.9V2584.9M1569.3 2569.9V2584.9M1232.8 2569.9V2578.5M1457.1 2569.9V2578.5M1681.4 2569.9V2578.5" fill="none" stroke="#000" stroke-width="2.7"/>
<text x="1075.6" y="2200.7" font-size="43.5" text-anchor="end">1.2</text>
<text x="1075.6" y="2327.7" font-size="43.5" text-anchor="end">0.8</text>
<text x="1075.6" y="2454.7" font-size="43.5" text-anchor="end">0.4</text>
<text x="1075.6" y="2581.7" font-size="43.5" text-anchor="end">0</text>
<text x="1120.6" y="2643.3" font-size="43.5" text-anchor="middle">0</text>
<text x="1344.9" y="2643.3" font-size="43.5" text-anchor="middle">50</text>
<text x="1569.3" y="2643.3" font-size="43.5" text-anchor="middle">100</text>
<text x="1793.6" y="2643.3" font-size="43.5" text-anchor="middle">150</text>
<text x="1470.7" y="2693" font-size="48.5" text-anchor="middle">Mixed layer depth (m)</text>
<text x="1143.1" y="2237" font-size="41" font-weight="bold">j</text>
<clipPath id="clip-j"><rect x="1100.6" y="2168.9" width="713" height="421"/></clipPath>
<g clip-path="url(#clip-j)">
<path d="M1521.4 2400.1h0M1421.6 2563h0M1478.6 2563h0M1494.9 2560.9h0M1499.1 2553.6h0M1539 2560.9h0M1571.6 2560.9h0M1595.6 2559.1h0M1622.1 2563h0M1639.7 2555.7h0M1424.6 2424.5h0M1371.1 2511.6h0M1334.5 2553.6h0M1345.2 2557.1h0M1369.3 2558.9h0M1375.5 2563.4h0M1421.4 2562.5h0M1262.1 2564.3h0M1277.9 2563.4h0M1302.3 2562.5h0" fill="none" stroke="#981f9c" stroke-width="13.2" stroke-linecap="round"/>
<path d="M1192.5,2451.1 1194.6,2452.6 1196,2454.7 1196.8,2461.2 1196.6,2442.3 1199.8,2430.8 1195.1,2419.8 1195.2,2415.5 1186.8,2422.7 1181.2,2423.9 1180.6,2427.9 1181.3,2429.8 1190.3,2431.3 1192.1,2432.3 1193.8,2434.3 1194.6,2438.1 1193.6,2448.6ZM1196.2,2409.9 1197.5,2403.1 1196.9,2390.3 1194.1,2393.2 1191,2394.1 1187.8,2393.4 1182.8,2390.5 1181.1,2396.6 1184.3,2400.3 1194.4,2406.8ZM1196.8,2471.2 1194.9,2473.9 1191.4,2475.3 1185,2475.2 1182.7,2474.3 1181.2,2473 1187,2488.7 1187.5,2491.2 1186.9,2493.8 1180.3,2508.7 1179.3,2528.3 1178.2,2530.6 1175.9,2532.6 1173.5,2533.4 1167.6,2533.4 1167.2,2534 1174.6,2546.1 1184.4,2557.5 1192.7,2563 1227.3,2563 1236.6,2553.8 1242.9,2551.1 1240.6,2550.1 1232.3,2544.6 1226.7,2545.9 1223.4,2545.1 1211.5,2537.2 1201.1,2526.5 1195.7,2511 1197,2489.1ZM1275.4,2545 1277.1,2547.2 1278.3,2544.3Z" fill="#0a62b0" fill-rule="evenodd" stroke="#0a62b0" stroke-width="1.5" stroke-linejoin="round"/>
<path d="M1178.6 2372.3h0M1193.4 2371.1h0M1241.6 2490.2h0M1241.6 2494.6h0M1264.3 2493.8h0M1269.8 2523.2h0M1309.1 2534.8h0M1377.3 2503.6h0M1385.4 2503.9h0M1181.2 2452.3h0M1178.1 2456.1h0M1180.5 2463.3h0M1179.4 2472.1h0M1181.2 2478.2h0M1183.6 2486.8h0M1185.2 2494h0M1183 2501.2h0M1178.7 2506.1h0M1178.6 2514.5h0M1177.3 2522.6h0M1177.1 2529.2h0M1170.8 2530.9h0M1166.6 2534.6h0M1169.8 2542.3h0M1175.7 2548.8h0M1179.9 2553h0M1186 2559.6h0M1191.9 2563.8h0M1199.3 2564.5h0M1206.1 2564.9h0M1213.1 2563.9h0M1222.4 2563.4h0M1229.3 2562.7h0M1233.9 2557.1h0M1239.9 2552.5h0M1248.3 2550.3h0M1249.3 2549.7h0M1242.9 2550.1h0M1236.8 2545.5h0M1227.7 2545.1h0M1221.9 2543.6h0M1214.3 2538.5h0M1210.4 2534.4h0M1204.7 2527h0M1200 2521.6h0M1198.3 2514h0M1196.9 2506.6h0M1196.8 2498.7h0M1197 2492.5h0M1198.7 2483.6h0M1197.3 2477h0M1199.2 2468h0M1197.3 2462.3h0M1198.8 2452.8h0M1196.9 2446h0M1198.4 2437.3h0M1200.5 2430.9h0M1198.8 2424h0M1195.3 2417.9h0M1198 2409.5h0M1199.8 2402.9h0M1197.7 2394.7h0M1196.4 2388.2h0M1191.7 2393.1h0M1184.5 2391.1h0M1180.6 2393.2h0M1180.9 2398.8h0M1187.6 2404.9h0M1194 2409.4h0M1193.4 2416.6h0M1186.8 2420.2h0M1181.5 2422.6h0M1180 2429.2h0M1187.3 2431.4h0M1192.5 2435.6h0M1193.2 2442.6h0M1192.3 2449.9h0M1193.7 2454.1h0M1194.6 2462h0M1195.4 2471h0M1190 2473.6h0M1183.3 2472.6h0M1180.3 2466.6h0M1180 2457.4h0M1270.3 2544.2h0M1277.4 2550.6h0M1278.7 2555.4h0M1277.8 2547.9h0M1282.8 2543.7h0M1285.8 2543.2h0M1279.2 2542.8h0M1260.9 2544.5h0M1262.4 2549h0M1300.2 2549h0M1306.5 2545.6h0M1298.3 2544.4h0" fill="none" stroke="#0a62b0" stroke-width="13.2" stroke-linecap="round"/>
<path d="M1236.2 2384.8h0M1215.7 2429.5h0M1224.3 2466.1h0M1255.4 2462.5h0M1210.4 2481.8h0M1258.6 2484.3h0M1196.4 2497.3h0M1250 2519.3h0M1263.6 2517.5h0M1179.1 2553.6h0M1173.8 2562.5h0M1215.4 2564.3h0M1232.7 2558.9h0M1232.7 2564.3h0M1250 2555.4h0M1300.5 2552.7h0" fill="none" stroke="#fa8b0c" stroke-width="13.2" stroke-linecap="round"/>
</g>
</g>
<text transform="translate(49 1297.8) rotate(-90)" font-size="55" text-anchor="middle"><tspan font-style="italic">Prochlorococcus</tspan> (10<tspan font-size="34" dy="-20">5</tspan><tspan dy="20"> cells ml</tspan><tspan font-size="34" dy="-20">-1</tspan><tspan dy="20">)</tspan></text>
<text transform="translate(984.5 1297) rotate(-90)" font-size="56.2" text-anchor="middle"><tspan font-style="italic">Synechococcus</tspan> (10<tspan font-size="34" dy="-20">5</tspan><tspan dy="20"> cells ml</tspan><tspan font-size="34" dy="-20">-1</tspan><tspan dy="20">)</tspan></text>
<circle cx="1857.6" cy="1275.7" r="12" fill="#981f9c"/>
<text x="1890" y="1285.7" font-size="34.1">March 2015</text>
<circle cx="1857.6" cy="1317.1" r="12" fill="#0a62b0"/>
<text x="1890" y="1327.1" font-size="34.1">April 2016</text>
<circle cx="1857.6" cy="1358.8" r="12" fill="#f9780f"/>
<text x="1890" y="1368.8" font-size="34.1">Jun 2017</text>
</svg>
</body></html>
